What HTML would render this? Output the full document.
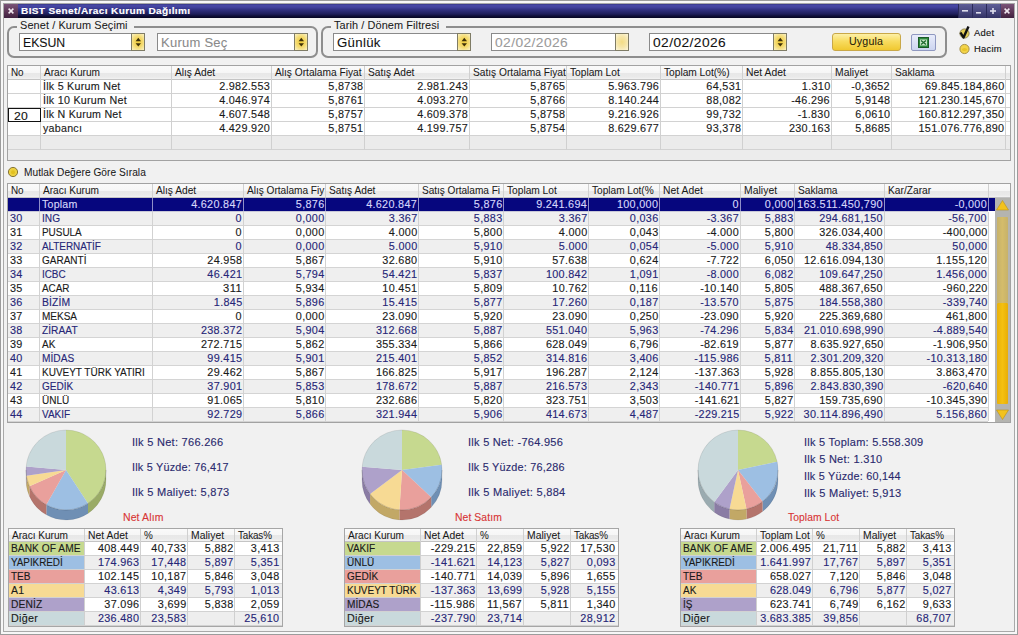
<!DOCTYPE html><html><head><meta charset="utf-8"><style>html,body{margin:0;padding:0;width:1018px;height:635px;overflow:hidden;background:#f1f1f1}body{position:relative;font-family:"Liberation Sans",sans-serif}body>div,body>svg{position:absolute}.t{white-space:nowrap;-webkit-text-stroke:0.12px currentColor}</style></head><body><div style="left:0px;top:0px;width:1018px;height:635px;background:#9c9c9c"></div>
<div style="left:1px;top:1px;width:1016px;height:633px;background:#f7f7f7"></div>
<div style="left:3px;top:3px;width:1012px;height:629px;background:#a9a9a9"></div>
<div style="left:4px;top:4px;width:1010px;height:627px;background:#f1f1f1"></div>
<div style="left:4px;top:4px;width:1010px;height:14px;background:linear-gradient(#34347c 0px,#4848a6 1px,#4444a0 3px,#30307e 6px,#1e1e5a 10px,#0e0e38 12px,#040420 14px)"></div>
<div style="left:4px;top:4px;width:14px;height:14px;background:linear-gradient(#7a5478,#5a3454 60%,#402240)"></div>
<div style="left:958px;top:4px;width:14px;height:14px;background:linear-gradient(#5e5e96,#46467c 60%,#323264);border-left:1px solid #2a2a5a;box-sizing:border-box"></div>
<div style="left:972px;top:4px;width:14px;height:14px;background:linear-gradient(#5e5e96,#46467c 60%,#323264);border-left:1px solid #2a2a5a;box-sizing:border-box"></div>
<div style="left:986px;top:4px;width:14px;height:14px;background:linear-gradient(#5e5e96,#46467c 60%,#323264);border-left:1px solid #2a2a5a;box-sizing:border-box"></div>
<div style="left:1000px;top:4px;width:14px;height:14px;background:linear-gradient(#7a5478,#5a3454 60%,#402240);border-left:1px solid #44447a;box-sizing:border-box"></div>
<svg style="left:0;top:0" width="1018" height="24"><g stroke="#f0e8f0" stroke-width="1.5" stroke-linecap="butt"><path d="M8.6 8.6 L13.4 13.4 M13.4 8.6 L8.6 13.4"/><path d="M1004.6 8.6 L1009.4 13.4 M1009.4 8.6 L1004.6 13.4"/></g><g fill="#dcdcec"><rect x="962" y="10" width="6" height="1.6"/><rect x="976" y="12" width="5" height="1.6"/><rect x="990" y="10.2" width="6" height="1.6"/><rect x="992.2" y="8" width="1.6" height="6"/></g></svg>
<div class="t" style="left:20.5px;top:1px;font-size:9.2px;line-height:20px;letter-spacing:0.322px;color:#ffffff;font-weight:bold;-webkit-text-stroke:0.15px #ffffff;transform:scaleX(1.0969);transform-origin:left 50%;">BIST Senet/Aracı Kurum Dağılımı</div>
<div style="left:7px;top:26px;width:311px;height:32px;border:2px solid #8e8e8e;border-radius:7px;box-sizing:border-box"></div>
<div style="left:17px;top:24px;width:117px;height:5px;background:#f1f1f1"></div>
<div class="t" style="left:20px;top:15px;font-size:10.6px;line-height:20px;letter-spacing:0.104px;color:#1a1a1a;-webkit-text-stroke:0.05px currentColor;transform:scaleX(1.0298);transform-origin:left 50%;">Senet / Kurum Seçimi</div>
<div style="left:321px;top:26px;width:626px;height:32px;border:2px solid #8e8e8e;border-radius:7px;box-sizing:border-box"></div>
<div style="left:331px;top:24px;width:115px;height:5px;background:#f1f1f1"></div>
<div class="t" style="left:334px;top:15px;font-size:10.6px;line-height:20px;letter-spacing:0.094px;color:#1a1a1a;-webkit-text-stroke:0.05px currentColor;transform:scaleX(1.0303);transform-origin:left 50%;">Tarih / Dönem Filtresi</div>
<div style="left:19px;top:33px;width:126px;height:18px;background:#ffffff;border:1px solid #8a8a8a;box-sizing:border-box"></div>
<div style="left:131px;top:33px;width:14px;height:18px;background:radial-gradient(ellipse 70% 60% at 50% 50%,#f0cc3a 0%,#f4da6e 55%,#f9eeb8 100%);border:1px solid #7f7c66;box-sizing:border-box"></div>
<svg style="left:131px;top:33px" width="14" height="18"><g fill="#3e3008"><path d="M4.6 8.2 L7.3 4.8 L10 8.2 Z"/><path d="M4.6 10.2 L7.3 13.6 L10 10.2 Z"/></g></svg>
<div class="t" style="left:23px;top:33px;font-size:12.4px;line-height:20px;letter-spacing:-0.043px;color:#111111;-webkit-text-stroke:0.08px currentColor;transform:scaleX(0.9925);transform-origin:left 50%;">EKSUN</div>
<div style="left:157px;top:33px;width:151px;height:18px;background:#ffffff;border:1px solid #8a8a8a;box-sizing:border-box"></div>
<div style="left:294px;top:33px;width:14px;height:18px;background:radial-gradient(ellipse 70% 60% at 50% 50%,#f0cc3a 0%,#f4da6e 55%,#f9eeb8 100%);border:1px solid #7f7c66;box-sizing:border-box"></div>
<svg style="left:294px;top:33px" width="14" height="18"><g fill="#3e3008"><path d="M4.6 8.2 L7.3 4.8 L10 8.2 Z"/><path d="M4.6 10.2 L7.3 13.6 L10 10.2 Z"/></g></svg>
<div class="t" style="left:161px;top:33px;font-size:12.4px;line-height:20px;letter-spacing:0.237px;color:#8a8a8a;-webkit-text-stroke:0.08px currentColor;transform:scaleX(1.0504);transform-origin:left 50%;">Kurum Seç</div>
<div style="left:333px;top:33px;width:138px;height:18px;background:#ffffff;border:1px solid #8a8a8a;box-sizing:border-box"></div>
<div style="left:457px;top:33px;width:14px;height:18px;background:radial-gradient(ellipse 70% 60% at 50% 50%,#f0cc3a 0%,#f4da6e 55%,#f9eeb8 100%);border:1px solid #7f7c66;box-sizing:border-box"></div>
<svg style="left:457px;top:33px" width="14" height="18"><g fill="#3e3008"><path d="M4.6 8.2 L7.3 4.8 L10 8.2 Z"/><path d="M4.6 10.2 L7.3 13.6 L10 10.2 Z"/></g></svg>
<div class="t" style="left:337px;top:33px;font-size:12.4px;line-height:20px;letter-spacing:0.301px;color:#111111;-webkit-text-stroke:0.08px currentColor;transform:scaleX(1.0660);transform-origin:left 50%;">Günlük</div>
<div style="left:491px;top:33px;width:138px;height:18px;background:#ffffff;border:1px solid #8a8a8a;box-sizing:border-box"></div>
<div style="left:615px;top:33px;width:14px;height:18px;background:radial-gradient(ellipse 70% 60% at 50% 50%,#f3dc84 0%,#f6e6a8 55%,#fbf3d2 100%);border:1px solid #7f7c66;box-sizing:border-box"></div>
<div class="t" style="left:495px;top:33px;font-size:12.7px;line-height:20px;letter-spacing:0.385px;color:#9a9a9a;-webkit-text-stroke:0.08px currentColor;transform:scaleX(1.0858);transform-origin:left 50%;">02/02/2026</div>
<div style="left:649px;top:33px;width:138px;height:18px;background:#ffffff;border:1px solid #8a8a8a;box-sizing:border-box"></div>
<div style="left:773px;top:33px;width:14px;height:18px;background:radial-gradient(ellipse 70% 60% at 50% 50%,#f0cc3a 0%,#f4da6e 55%,#f9eeb8 100%);border:1px solid #7f7c66;box-sizing:border-box"></div>
<svg style="left:773px;top:33px" width="14" height="18"><g fill="#3e3008"><path d="M4.6 8.2 L7.3 4.8 L10 8.2 Z"/><path d="M4.6 10.2 L7.3 13.6 L10 10.2 Z"/></g></svg>
<div class="t" style="left:653px;top:33px;font-size:12.7px;line-height:20px;letter-spacing:0.385px;color:#111111;-webkit-text-stroke:0.08px currentColor;transform:scaleX(1.0858);transform-origin:left 50%;">02/02/2026</div>
<div style="left:832px;top:33px;width:69px;height:18px;background:linear-gradient(#fdf0a8,#f8dc60 45%,#f0c830 100%);border:1px solid #c9a848;border-radius:3px;box-sizing:border-box"></div>
<div class="t" style="left:848.93px;top:32px;font-size:10.2px;line-height:20px;letter-spacing:0.159px;color:#1e1a08;-webkit-text-stroke:0.05px currentColor;transform:scaleX(1.0437);transform-origin:left 50%;">Uygula</div>
<div style="left:911px;top:34px;width:25px;height:17px;background:linear-gradient(#e8ecfa,#cdd5f0);border:1px solid #8f98c0;border-radius:2px;box-sizing:border-box"></div>
<svg style="left:918px;top:37px" width="11" height="11"><rect x="0.5" y="0.5" width="10" height="10" fill="#2e8a3e" stroke="#1a5a26"/><rect x="2" y="2.5" width="7" height="6" fill="#c8e8c8"/><path d="M3 3.5 L8 7.5 M8 3.5 L3 7.5" stroke="#1f6a2e" stroke-width="1.4"/></svg>
<svg style="left:956px;top:24px" width="20" height="34"><circle cx="8.5" cy="9.5" r="4.6" fill="#e2cc58" stroke="#8a8050" stroke-width="0.9"/><path d="M4.5 8.5 L7.5 13.5 L12.5 2.5" stroke="#111" stroke-width="2.4" fill="none" stroke-linejoin="round"/><circle cx="8.5" cy="25" r="4.6" fill="#f2d34a" stroke="#a08a40" stroke-width="0.9"/><ellipse cx="8.5" cy="25.5" rx="2.6" ry="1.6" fill="#e8c428"/></svg>
<div class="t" style="left:974px;top:23px;font-size:8.8px;line-height:20px;letter-spacing:0.221px;color:#111111;transform:scaleX(1.0699);transform-origin:left 50%;">Adet</div>
<div class="t" style="left:974px;top:39px;font-size:8.8px;line-height:20px;letter-spacing:0.234px;color:#111111;transform:scaleX(1.0673);transform-origin:left 50%;">Hacim</div>
<div style="left:7px;top:65px;width:1004px;height:96px;border:1px solid #a2a2a2;box-sizing:border-box;background:#ececec"></div>
<div style="left:8px;top:66px;width:1002px;height:13px;background:linear-gradient(#fafafa 0%,#f6f6f6 50%,#e8e8e8 54%,#eaeaea 84%,#f2f2f2 100%)"></div>
<div style="left:8px;top:79px;width:1002px;height:1px;background:#c4c4c4"></div>
<div style="left:8px;top:80px;width:1002px;height:56px;background:#ffffff"></div>
<div style="left:8px;top:93px;width:1002px;height:1px;background:#d2d2d2"></div>
<div style="left:8px;top:107px;width:1002px;height:1px;background:#d2d2d2"></div>
<div style="left:8px;top:121px;width:1002px;height:1px;background:#d2d2d2"></div>
<div style="left:8px;top:135px;width:1002px;height:1px;background:#d2d2d2"></div>
<div style="left:8px;top:149px;width:1002px;height:1px;background:#d2d2d2"></div>
<div style="left:8px;top:136px;width:1002px;height:13px;background:#ebebeb"></div>
<div style="left:40px;top:66px;width:1px;height:84px;background:#d0d0d0"></div>
<div style="left:171px;top:66px;width:1px;height:84px;background:#d0d0d0"></div>
<div style="left:271px;top:66px;width:1px;height:84px;background:#d0d0d0"></div>
<div style="left:364px;top:66px;width:1px;height:84px;background:#d0d0d0"></div>
<div style="left:469px;top:66px;width:1px;height:84px;background:#d0d0d0"></div>
<div style="left:566px;top:66px;width:1px;height:84px;background:#d0d0d0"></div>
<div style="left:660px;top:66px;width:1px;height:84px;background:#d0d0d0"></div>
<div style="left:742px;top:66px;width:1px;height:84px;background:#d0d0d0"></div>
<div style="left:831px;top:66px;width:1px;height:84px;background:#d0d0d0"></div>
<div style="left:891px;top:66px;width:1px;height:84px;background:#d0d0d0"></div>
<div style="left:1005px;top:66px;width:1px;height:84px;background:#d0d0d0"></div>
<div style="left:8px;top:150px;width:1002px;height:10px;background:#ececec"></div>
<div class="t" style="left:11px;top:63px;font-size:10.2px;line-height:20px;letter-spacing:-0.119px;color:#1a1a1a;-webkit-text-stroke:0.05px currentColor;transform:scaleX(0.9721);transform-origin:left 50%;">No</div>
<div class="t" style="left:44px;top:63px;font-size:10.2px;line-height:20px;letter-spacing:-0.027px;color:#1a1a1a;-webkit-text-stroke:0.05px currentColor;transform:scaleX(0.9920);transform-origin:left 50%;">Aracı Kurum</div>
<div class="t" style="left:175px;top:63px;font-size:10.2px;line-height:20px;letter-spacing:-0.005px;color:#1a1a1a;-webkit-text-stroke:0.05px currentColor;">Alış Adet</div>
<div class="t" style="left:275px;top:63px;font-size:10.2px;line-height:20px;letter-spacing:-0.005px;color:#1a1a1a;-webkit-text-stroke:0.05px currentColor;">Alış Ortalama Fiyat</div>
<div class="t" style="left:368px;top:63px;font-size:10.2px;line-height:20px;letter-spacing:-0.006px;color:#1a1a1a;-webkit-text-stroke:0.05px currentColor;">Satış Adet</div>
<div class="t" style="left:473px;top:63px;font-size:10.2px;line-height:20px;letter-spacing:-0.005px;color:#1a1a1a;-webkit-text-stroke:0.05px currentColor;">Satış Ortalama Fiyat</div>
<div class="t" style="left:570px;top:63px;font-size:10.2px;line-height:20px;letter-spacing:-0.014px;color:#1a1a1a;-webkit-text-stroke:0.05px currentColor;">Toplam Lot</div>
<div class="t" style="left:664px;top:63px;font-size:10.2px;line-height:20px;letter-spacing:-0.012px;color:#1a1a1a;-webkit-text-stroke:0.05px currentColor;">Toplam Lot(%)</div>
<div class="t" style="left:746px;top:63px;font-size:10.2px;line-height:20px;letter-spacing:0.048px;color:#1a1a1a;-webkit-text-stroke:0.05px currentColor;transform:scaleX(1.0147);transform-origin:left 50%;">Net Adet</div>
<div class="t" style="left:835px;top:63px;font-size:10.2px;line-height:20px;letter-spacing:0.052px;color:#1a1a1a;-webkit-text-stroke:0.05px currentColor;transform:scaleX(1.0167);transform-origin:left 50%;">Maliyet</div>
<div class="t" style="left:895px;top:63px;font-size:10.2px;line-height:20px;letter-spacing:-0.017px;color:#1a1a1a;-webkit-text-stroke:0.05px currentColor;">Saklama</div>
<div class="t" style="left:43px;top:77px;font-size:10.0px;line-height:20px;letter-spacing:0.231px;color:#1a1a1a;transform:scaleX(1.0717);transform-origin:left 50%;">İlk 5 Kurum Net</div>
<div class="t" style="right:747.72px;top:77px;font-size:10.0px;line-height:20px;letter-spacing:0.285px;color:#1a1a1a;transform:scaleX(1.0817);transform-origin:right 50%;">2.982.553</div>
<div class="t" style="right:654.71px;top:77px;font-size:10.0px;line-height:20px;letter-spacing:0.294px;color:#1a1a1a;transform:scaleX(1.0817);transform-origin:right 50%;">5,8738</div>
<div class="t" style="right:549.72px;top:77px;font-size:10.0px;line-height:20px;letter-spacing:0.285px;color:#1a1a1a;transform:scaleX(1.0817);transform-origin:right 50%;">2.981.243</div>
<div class="t" style="right:452.71px;top:77px;font-size:10.0px;line-height:20px;letter-spacing:0.294px;color:#1a1a1a;transform:scaleX(1.0817);transform-origin:right 50%;">5,8765</div>
<div class="t" style="right:358.72px;top:77px;font-size:10.0px;line-height:20px;letter-spacing:0.285px;color:#1a1a1a;transform:scaleX(1.0817);transform-origin:right 50%;">5.963.796</div>
<div class="t" style="right:276.71px;top:77px;font-size:10.0px;line-height:20px;letter-spacing:0.294px;color:#1a1a1a;transform:scaleX(1.0817);transform-origin:right 50%;">64,531</div>
<div class="t" style="right:187.71px;top:77px;font-size:10.0px;line-height:20px;letter-spacing:0.288px;color:#1a1a1a;transform:scaleX(1.0817);transform-origin:right 50%;">1.310</div>
<div class="t" style="right:127.73px;top:77px;font-size:10.0px;line-height:20px;letter-spacing:0.268px;color:#1a1a1a;transform:scaleX(1.0785);transform-origin:right 50%;">-0,3652</div>
<div class="t" style="right:13.71px;top:77px;font-size:10.0px;line-height:20px;letter-spacing:0.286px;color:#1a1a1a;transform:scaleX(1.0817);transform-origin:right 50%;">69.845.184,860</div>
<div class="t" style="left:43px;top:91px;font-size:10.0px;line-height:20px;letter-spacing:0.236px;color:#1a1a1a;transform:scaleX(1.0724);transform-origin:left 50%;">İlk 10 Kurum Net</div>
<div class="t" style="right:747.72px;top:91px;font-size:10.0px;line-height:20px;letter-spacing:0.285px;color:#1a1a1a;transform:scaleX(1.0817);transform-origin:right 50%;">4.046.974</div>
<div class="t" style="right:654.71px;top:91px;font-size:10.0px;line-height:20px;letter-spacing:0.294px;color:#1a1a1a;transform:scaleX(1.0817);transform-origin:right 50%;">5,8761</div>
<div class="t" style="right:549.72px;top:91px;font-size:10.0px;line-height:20px;letter-spacing:0.285px;color:#1a1a1a;transform:scaleX(1.0817);transform-origin:right 50%;">4.093.270</div>
<div class="t" style="right:452.71px;top:91px;font-size:10.0px;line-height:20px;letter-spacing:0.294px;color:#1a1a1a;transform:scaleX(1.0817);transform-origin:right 50%;">5,8766</div>
<div class="t" style="right:358.72px;top:91px;font-size:10.0px;line-height:20px;letter-spacing:0.285px;color:#1a1a1a;transform:scaleX(1.0817);transform-origin:right 50%;">8.140.244</div>
<div class="t" style="right:276.71px;top:91px;font-size:10.0px;line-height:20px;letter-spacing:0.294px;color:#1a1a1a;transform:scaleX(1.0817);transform-origin:right 50%;">88,082</div>
<div class="t" style="right:187.73px;top:91px;font-size:10.0px;line-height:20px;letter-spacing:0.268px;color:#1a1a1a;transform:scaleX(1.0785);transform-origin:right 50%;">-46.296</div>
<div class="t" style="right:127.71px;top:91px;font-size:10.0px;line-height:20px;letter-spacing:0.294px;color:#1a1a1a;transform:scaleX(1.0817);transform-origin:right 50%;">5,9148</div>
<div class="t" style="right:13.71px;top:91px;font-size:10.0px;line-height:20px;letter-spacing:0.288px;color:#1a1a1a;transform:scaleX(1.0817);transform-origin:right 50%;">121.230.145,670</div>
<div class="t" style="left:43px;top:105px;font-size:10.0px;line-height:20px;letter-spacing:0.216px;color:#1a1a1a;transform:scaleX(1.0659);transform-origin:left 50%;">İlk N Kurum Net</div>
<div class="t" style="right:747.72px;top:105px;font-size:10.0px;line-height:20px;letter-spacing:0.285px;color:#1a1a1a;transform:scaleX(1.0817);transform-origin:right 50%;">4.607.548</div>
<div class="t" style="right:654.71px;top:105px;font-size:10.0px;line-height:20px;letter-spacing:0.294px;color:#1a1a1a;transform:scaleX(1.0817);transform-origin:right 50%;">5,8757</div>
<div class="t" style="right:549.72px;top:105px;font-size:10.0px;line-height:20px;letter-spacing:0.285px;color:#1a1a1a;transform:scaleX(1.0817);transform-origin:right 50%;">4.609.378</div>
<div class="t" style="right:452.71px;top:105px;font-size:10.0px;line-height:20px;letter-spacing:0.294px;color:#1a1a1a;transform:scaleX(1.0817);transform-origin:right 50%;">5,8758</div>
<div class="t" style="right:358.72px;top:105px;font-size:10.0px;line-height:20px;letter-spacing:0.285px;color:#1a1a1a;transform:scaleX(1.0817);transform-origin:right 50%;">9.216.926</div>
<div class="t" style="right:276.71px;top:105px;font-size:10.0px;line-height:20px;letter-spacing:0.294px;color:#1a1a1a;transform:scaleX(1.0817);transform-origin:right 50%;">99,732</div>
<div class="t" style="right:187.74px;top:105px;font-size:10.0px;line-height:20px;letter-spacing:0.259px;color:#1a1a1a;transform:scaleX(1.0779);transform-origin:right 50%;">-1.830</div>
<div class="t" style="right:127.71px;top:105px;font-size:10.0px;line-height:20px;letter-spacing:0.294px;color:#1a1a1a;transform:scaleX(1.0817);transform-origin:right 50%;">6,0610</div>
<div class="t" style="right:13.71px;top:105px;font-size:10.0px;line-height:20px;letter-spacing:0.288px;color:#1a1a1a;transform:scaleX(1.0817);transform-origin:right 50%;">160.812.297,350</div>
<div class="t" style="left:43px;top:119px;font-size:10.0px;line-height:20px;letter-spacing:0.235px;color:#1a1a1a;transform:scaleX(1.0673);transform-origin:left 50%;">yabancı</div>
<div class="t" style="right:747.72px;top:119px;font-size:10.0px;line-height:20px;letter-spacing:0.285px;color:#1a1a1a;transform:scaleX(1.0817);transform-origin:right 50%;">4.429.920</div>
<div class="t" style="right:654.71px;top:119px;font-size:10.0px;line-height:20px;letter-spacing:0.294px;color:#1a1a1a;transform:scaleX(1.0817);transform-origin:right 50%;">5,8751</div>
<div class="t" style="right:549.72px;top:119px;font-size:10.0px;line-height:20px;letter-spacing:0.285px;color:#1a1a1a;transform:scaleX(1.0817);transform-origin:right 50%;">4.199.757</div>
<div class="t" style="right:452.71px;top:119px;font-size:10.0px;line-height:20px;letter-spacing:0.294px;color:#1a1a1a;transform:scaleX(1.0817);transform-origin:right 50%;">5,8754</div>
<div class="t" style="right:358.72px;top:119px;font-size:10.0px;line-height:20px;letter-spacing:0.285px;color:#1a1a1a;transform:scaleX(1.0817);transform-origin:right 50%;">8.629.677</div>
<div class="t" style="right:276.71px;top:119px;font-size:10.0px;line-height:20px;letter-spacing:0.294px;color:#1a1a1a;transform:scaleX(1.0817);transform-origin:right 50%;">93,378</div>
<div class="t" style="right:187.70px;top:119px;font-size:10.0px;line-height:20px;letter-spacing:0.297px;color:#1a1a1a;transform:scaleX(1.0817);transform-origin:right 50%;">230.163</div>
<div class="t" style="right:127.71px;top:119px;font-size:10.0px;line-height:20px;letter-spacing:0.294px;color:#1a1a1a;transform:scaleX(1.0817);transform-origin:right 50%;">5,8685</div>
<div class="t" style="right:13.71px;top:119px;font-size:10.0px;line-height:20px;letter-spacing:0.288px;color:#1a1a1a;transform:scaleX(1.0817);transform-origin:right 50%;">151.076.776,890</div>
<div style="left:8px;top:108px;width:33px;height:14px;background:#ffffff;border:1px solid #111111;box-sizing:border-box"></div>
<div class="t" style="left:14px;top:106px;font-size:11.6px;line-height:20px;letter-spacing:0.219px;color:#111111;transform:scaleX(1.0492);transform-origin:left 50%;">20</div>
<svg style="left:6px;top:165px" width="14" height="14"><circle cx="7" cy="7" r="4.6" fill="#ecd040" stroke="#857538" stroke-width="1"/><circle cx="7" cy="7.3" r="2" fill="#e2c020"/></svg>
<div class="t" style="left:23.5px;top:163px;font-size:10px;line-height:20px;letter-spacing:0.046px;color:#1a1a1a;-webkit-text-stroke:0.05px currentColor;transform:scaleX(1.0144);transform-origin:left 50%;">Mutlak Değere Göre Sırala</div>
<div style="left:7px;top:183px;width:1004px;height:240px;border:1px solid #a2a2a2;box-sizing:border-box;background:#ffffff"></div>
<div style="left:8px;top:184px;width:1002px;height:13px;background:linear-gradient(#fafafa 0%,#f6f6f6 50%,#e8e8e8 54%,#eaeaea 84%,#f2f2f2 100%)"></div>
<div style="left:8px;top:197px;width:1002px;height:1px;background:#c4c4c4"></div>
<div style="left:8px;top:198px;width:987px;height:13px;background:#06067e"></div>
<div style="left:8px;top:211px;width:980px;height:1px;background:#c8c8d8"></div>
<div style="left:8px;top:212px;width:980px;height:13px;background:#efefef"></div>
<div style="left:8px;top:225px;width:980px;height:1px;background:#d4d4d4"></div>
<div style="left:8px;top:226px;width:980px;height:13px;background:#ffffff"></div>
<div style="left:8px;top:239px;width:980px;height:1px;background:#d4d4d4"></div>
<div style="left:8px;top:240px;width:980px;height:13px;background:#efefef"></div>
<div style="left:8px;top:253px;width:980px;height:1px;background:#d4d4d4"></div>
<div style="left:8px;top:254px;width:980px;height:13px;background:#ffffff"></div>
<div style="left:8px;top:267px;width:980px;height:1px;background:#d4d4d4"></div>
<div style="left:8px;top:268px;width:980px;height:13px;background:#efefef"></div>
<div style="left:8px;top:281px;width:980px;height:1px;background:#d4d4d4"></div>
<div style="left:8px;top:282px;width:980px;height:13px;background:#ffffff"></div>
<div style="left:8px;top:295px;width:980px;height:1px;background:#d4d4d4"></div>
<div style="left:8px;top:296px;width:980px;height:13px;background:#efefef"></div>
<div style="left:8px;top:309px;width:980px;height:1px;background:#d4d4d4"></div>
<div style="left:8px;top:310px;width:980px;height:13px;background:#ffffff"></div>
<div style="left:8px;top:323px;width:980px;height:1px;background:#d4d4d4"></div>
<div style="left:8px;top:324px;width:980px;height:13px;background:#efefef"></div>
<div style="left:8px;top:337px;width:980px;height:1px;background:#d4d4d4"></div>
<div style="left:8px;top:338px;width:980px;height:13px;background:#ffffff"></div>
<div style="left:8px;top:351px;width:980px;height:1px;background:#d4d4d4"></div>
<div style="left:8px;top:352px;width:980px;height:13px;background:#efefef"></div>
<div style="left:8px;top:365px;width:980px;height:1px;background:#d4d4d4"></div>
<div style="left:8px;top:366px;width:980px;height:13px;background:#ffffff"></div>
<div style="left:8px;top:379px;width:980px;height:1px;background:#d4d4d4"></div>
<div style="left:8px;top:380px;width:980px;height:13px;background:#efefef"></div>
<div style="left:8px;top:393px;width:980px;height:1px;background:#d4d4d4"></div>
<div style="left:8px;top:394px;width:980px;height:13px;background:#ffffff"></div>
<div style="left:8px;top:407px;width:980px;height:1px;background:#d4d4d4"></div>
<div style="left:8px;top:408px;width:980px;height:13px;background:#efefef"></div>
<div style="left:8px;top:421px;width:980px;height:1px;background:#d4d4d4"></div>
<div style="left:39px;top:184px;width:1px;height:13px;background:#d0d0d0"></div>
<div style="left:39px;top:198px;width:1px;height:13px;background:#8f8fc8"></div>
<div style="left:39px;top:212px;width:1px;height:209px;background:#d2d2d2"></div>
<div style="left:152px;top:184px;width:1px;height:13px;background:#d0d0d0"></div>
<div style="left:152px;top:198px;width:1px;height:13px;background:#8f8fc8"></div>
<div style="left:152px;top:212px;width:1px;height:209px;background:#d2d2d2"></div>
<div style="left:243px;top:184px;width:1px;height:13px;background:#d0d0d0"></div>
<div style="left:243px;top:198px;width:1px;height:13px;background:#8f8fc8"></div>
<div style="left:243px;top:212px;width:1px;height:209px;background:#d2d2d2"></div>
<div style="left:325px;top:184px;width:1px;height:13px;background:#d0d0d0"></div>
<div style="left:325px;top:198px;width:1px;height:13px;background:#8f8fc8"></div>
<div style="left:325px;top:212px;width:1px;height:209px;background:#d2d2d2"></div>
<div style="left:418px;top:184px;width:1px;height:13px;background:#d0d0d0"></div>
<div style="left:418px;top:198px;width:1px;height:13px;background:#8f8fc8"></div>
<div style="left:418px;top:212px;width:1px;height:209px;background:#d2d2d2"></div>
<div style="left:503px;top:184px;width:1px;height:13px;background:#d0d0d0"></div>
<div style="left:503px;top:198px;width:1px;height:13px;background:#8f8fc8"></div>
<div style="left:503px;top:212px;width:1px;height:209px;background:#d2d2d2"></div>
<div style="left:588px;top:184px;width:1px;height:13px;background:#d0d0d0"></div>
<div style="left:588px;top:198px;width:1px;height:13px;background:#8f8fc8"></div>
<div style="left:588px;top:212px;width:1px;height:209px;background:#d2d2d2"></div>
<div style="left:659px;top:184px;width:1px;height:13px;background:#d0d0d0"></div>
<div style="left:659px;top:198px;width:1px;height:13px;background:#8f8fc8"></div>
<div style="left:659px;top:212px;width:1px;height:209px;background:#d2d2d2"></div>
<div style="left:740px;top:184px;width:1px;height:13px;background:#d0d0d0"></div>
<div style="left:740px;top:198px;width:1px;height:13px;background:#8f8fc8"></div>
<div style="left:740px;top:212px;width:1px;height:209px;background:#d2d2d2"></div>
<div style="left:794px;top:184px;width:1px;height:13px;background:#d0d0d0"></div>
<div style="left:794px;top:198px;width:1px;height:13px;background:#8f8fc8"></div>
<div style="left:794px;top:212px;width:1px;height:209px;background:#d2d2d2"></div>
<div style="left:884px;top:184px;width:1px;height:13px;background:#d0d0d0"></div>
<div style="left:884px;top:198px;width:1px;height:13px;background:#8f8fc8"></div>
<div style="left:884px;top:212px;width:1px;height:209px;background:#d2d2d2"></div>
<div style="left:988px;top:184px;width:1px;height:13px;background:#d0d0d0"></div>
<div style="left:988px;top:198px;width:1px;height:13px;background:#8f8fc8"></div>
<div style="left:988px;top:212px;width:1px;height:209px;background:#d2d2d2"></div>
<div class="t" style="left:11px;top:181px;font-size:10.2px;line-height:20px;letter-spacing:-0.119px;color:#1a1a1a;-webkit-text-stroke:0.05px currentColor;transform:scaleX(0.9721);transform-origin:left 50%;">No</div>
<div class="t" style="left:43px;top:181px;font-size:10.2px;line-height:20px;letter-spacing:-0.027px;color:#1a1a1a;-webkit-text-stroke:0.05px currentColor;transform:scaleX(0.9920);transform-origin:left 50%;">Aracı Kurum</div>
<div class="t" style="left:156px;top:181px;font-size:10.2px;line-height:20px;letter-spacing:-0.005px;color:#1a1a1a;-webkit-text-stroke:0.05px currentColor;">Alış Adet</div>
<div class="t" style="left:247px;top:181px;font-size:10.2px;line-height:20px;letter-spacing:-0.021px;color:#1a1a1a;-webkit-text-stroke:0.05px currentColor;transform:scaleX(0.9930);transform-origin:left 50%;">Alış Ortalama Fiy</div>
<div class="t" style="left:329px;top:181px;font-size:10.2px;line-height:20px;letter-spacing:-0.006px;color:#1a1a1a;-webkit-text-stroke:0.05px currentColor;">Satış Adet</div>
<div class="t" style="left:422px;top:181px;font-size:10.2px;line-height:20px;letter-spacing:-0.030px;color:#1a1a1a;-webkit-text-stroke:0.05px currentColor;transform:scaleX(0.9904);transform-origin:left 50%;">Satış Ortalama Fi</div>
<div class="t" style="left:507px;top:181px;font-size:10.2px;line-height:20px;letter-spacing:-0.014px;color:#1a1a1a;-webkit-text-stroke:0.05px currentColor;">Toplam Lot</div>
<div class="t" style="left:592px;top:181px;font-size:10.2px;line-height:20px;letter-spacing:-0.019px;color:#1a1a1a;-webkit-text-stroke:0.05px currentColor;transform:scaleX(0.9946);transform-origin:left 50%;">Toplam Lot(%</div>
<div class="t" style="left:663px;top:181px;font-size:10.2px;line-height:20px;letter-spacing:0.048px;color:#1a1a1a;-webkit-text-stroke:0.05px currentColor;transform:scaleX(1.0147);transform-origin:left 50%;">Net Adet</div>
<div class="t" style="left:744px;top:181px;font-size:10.2px;line-height:20px;letter-spacing:0.052px;color:#1a1a1a;-webkit-text-stroke:0.05px currentColor;transform:scaleX(1.0167);transform-origin:left 50%;">Maliyet</div>
<div class="t" style="left:798px;top:181px;font-size:10.2px;line-height:20px;letter-spacing:-0.017px;color:#1a1a1a;-webkit-text-stroke:0.05px currentColor;">Saklama</div>
<div class="t" style="left:888px;top:181px;font-size:10.2px;line-height:20px;letter-spacing:0.010px;color:#1a1a1a;-webkit-text-stroke:0.05px currentColor;">Kar/Zarar</div>
<div class="t" style="left:42px;top:195px;font-size:10.0px;line-height:20px;letter-spacing:0.219px;color:#d6d6fa;transform:scaleX(1.0588);transform-origin:left 50%;">Toplam</div>
<div class="t" style="right:775.72px;top:195px;font-size:10.0px;line-height:20px;letter-spacing:0.285px;color:#d6d6fa;transform:scaleX(1.0817);transform-origin:right 50%;">4.620.847</div>
<div class="t" style="right:693.71px;top:195px;font-size:10.0px;line-height:20px;letter-spacing:0.288px;color:#d6d6fa;transform:scaleX(1.0817);transform-origin:right 50%;">5,876</div>
<div class="t" style="right:600.72px;top:195px;font-size:10.0px;line-height:20px;letter-spacing:0.285px;color:#d6d6fa;transform:scaleX(1.0817);transform-origin:right 50%;">4.620.847</div>
<div class="t" style="right:515.71px;top:195px;font-size:10.0px;line-height:20px;letter-spacing:0.288px;color:#d6d6fa;transform:scaleX(1.0817);transform-origin:right 50%;">5,876</div>
<div class="t" style="right:430.72px;top:195px;font-size:10.0px;line-height:20px;letter-spacing:0.285px;color:#d6d6fa;transform:scaleX(1.0817);transform-origin:right 50%;">9.241.694</div>
<div class="t" style="right:359.70px;top:195px;font-size:10.0px;line-height:20px;letter-spacing:0.297px;color:#d6d6fa;transform:scaleX(1.0817);transform-origin:right 50%;">100,000</div>
<div class="t" style="right:278.68px;top:195px;font-size:10.0px;line-height:20px;letter-spacing:0.320px;color:#d6d6fa;transform:scaleX(1.0817);transform-origin:right 50%;">0</div>
<div class="t" style="right:224.71px;top:195px;font-size:10.0px;line-height:20px;letter-spacing:0.288px;color:#d6d6fa;transform:scaleX(1.0817);transform-origin:right 50%;">0,000</div>
<div class="t" style="right:134.69px;top:195px;font-size:10.0px;line-height:20px;letter-spacing:0.308px;color:#d6d6fa;transform:scaleX(1.0878);transform-origin:right 50%;">163.511.450,790</div>
<div class="t" style="right:30.74px;top:195px;font-size:10.0px;line-height:20px;letter-spacing:0.259px;color:#d6d6fa;transform:scaleX(1.0779);transform-origin:right 50%;">-0,000</div>
<div class="t" style="left:10px;top:209px;font-size:10.0px;line-height:20px;letter-spacing:0.320px;color:#262677;transform:scaleX(1.0817);transform-origin:left 50%;">30</div>
<div class="t" style="left:42px;top:209px;font-size:10.0px;line-height:20px;letter-spacing:0.053px;color:#262677;transform:scaleX(1.0134);transform-origin:left 50%;">ING</div>
<div class="t" style="right:775.68px;top:209px;font-size:10.0px;line-height:20px;letter-spacing:0.320px;color:#262677;transform:scaleX(1.0817);transform-origin:right 50%;">0</div>
<div class="t" style="right:693.71px;top:209px;font-size:10.0px;line-height:20px;letter-spacing:0.288px;color:#262677;transform:scaleX(1.0817);transform-origin:right 50%;">0,000</div>
<div class="t" style="right:600.71px;top:209px;font-size:10.0px;line-height:20px;letter-spacing:0.288px;color:#262677;transform:scaleX(1.0817);transform-origin:right 50%;">3.367</div>
<div class="t" style="right:515.71px;top:209px;font-size:10.0px;line-height:20px;letter-spacing:0.288px;color:#262677;transform:scaleX(1.0817);transform-origin:right 50%;">5,883</div>
<div class="t" style="right:430.71px;top:209px;font-size:10.0px;line-height:20px;letter-spacing:0.288px;color:#262677;transform:scaleX(1.0817);transform-origin:right 50%;">3.367</div>
<div class="t" style="right:359.71px;top:209px;font-size:10.0px;line-height:20px;letter-spacing:0.288px;color:#262677;transform:scaleX(1.0817);transform-origin:right 50%;">0,036</div>
<div class="t" style="right:278.74px;top:209px;font-size:10.0px;line-height:20px;letter-spacing:0.259px;color:#262677;transform:scaleX(1.0779);transform-origin:right 50%;">-3.367</div>
<div class="t" style="right:224.71px;top:209px;font-size:10.0px;line-height:20px;letter-spacing:0.288px;color:#262677;transform:scaleX(1.0817);transform-origin:right 50%;">5,883</div>
<div class="t" style="right:134.71px;top:209px;font-size:10.0px;line-height:20px;letter-spacing:0.291px;color:#262677;transform:scaleX(1.0817);transform-origin:right 50%;">294.681,150</div>
<div class="t" style="right:30.73px;top:209px;font-size:10.0px;line-height:20px;letter-spacing:0.268px;color:#262677;transform:scaleX(1.0785);transform-origin:right 50%;">-56,700</div>
<div class="t" style="left:10px;top:223px;font-size:10.0px;line-height:20px;letter-spacing:0.320px;color:#1a1a1a;transform:scaleX(1.0817);transform-origin:left 50%;">31</div>
<div class="t" style="left:42px;top:223px;font-size:10.0px;line-height:20px;letter-spacing:-0.024px;color:#1a1a1a;transform:scaleX(0.9946);transform-origin:left 50%;">PUSULA</div>
<div class="t" style="right:775.68px;top:223px;font-size:10.0px;line-height:20px;letter-spacing:0.320px;color:#1a1a1a;transform:scaleX(1.0817);transform-origin:right 50%;">0</div>
<div class="t" style="right:693.71px;top:223px;font-size:10.0px;line-height:20px;letter-spacing:0.288px;color:#1a1a1a;transform:scaleX(1.0817);transform-origin:right 50%;">0,000</div>
<div class="t" style="right:600.71px;top:223px;font-size:10.0px;line-height:20px;letter-spacing:0.288px;color:#1a1a1a;transform:scaleX(1.0817);transform-origin:right 50%;">4.000</div>
<div class="t" style="right:515.71px;top:223px;font-size:10.0px;line-height:20px;letter-spacing:0.288px;color:#1a1a1a;transform:scaleX(1.0817);transform-origin:right 50%;">5,800</div>
<div class="t" style="right:430.71px;top:223px;font-size:10.0px;line-height:20px;letter-spacing:0.288px;color:#1a1a1a;transform:scaleX(1.0817);transform-origin:right 50%;">4.000</div>
<div class="t" style="right:359.71px;top:223px;font-size:10.0px;line-height:20px;letter-spacing:0.288px;color:#1a1a1a;transform:scaleX(1.0817);transform-origin:right 50%;">0,043</div>
<div class="t" style="right:278.74px;top:223px;font-size:10.0px;line-height:20px;letter-spacing:0.259px;color:#1a1a1a;transform:scaleX(1.0779);transform-origin:right 50%;">-4.000</div>
<div class="t" style="right:224.71px;top:223px;font-size:10.0px;line-height:20px;letter-spacing:0.288px;color:#1a1a1a;transform:scaleX(1.0817);transform-origin:right 50%;">5,800</div>
<div class="t" style="right:134.71px;top:223px;font-size:10.0px;line-height:20px;letter-spacing:0.291px;color:#1a1a1a;transform:scaleX(1.0817);transform-origin:right 50%;">326.034,400</div>
<div class="t" style="right:30.73px;top:223px;font-size:10.0px;line-height:20px;letter-spacing:0.274px;color:#1a1a1a;transform:scaleX(1.0790);transform-origin:right 50%;">-400,000</div>
<div class="t" style="left:10px;top:237px;font-size:10.0px;line-height:20px;letter-spacing:0.320px;color:#262677;transform:scaleX(1.0817);transform-origin:left 50%;">32</div>
<div class="t" style="left:42px;top:237px;font-size:10.0px;line-height:20px;letter-spacing:-0.035px;color:#262677;transform:scaleX(0.9912);transform-origin:left 50%;">ALTERNATİF</div>
<div class="t" style="right:775.68px;top:237px;font-size:10.0px;line-height:20px;letter-spacing:0.320px;color:#262677;transform:scaleX(1.0817);transform-origin:right 50%;">0</div>
<div class="t" style="right:693.71px;top:237px;font-size:10.0px;line-height:20px;letter-spacing:0.288px;color:#262677;transform:scaleX(1.0817);transform-origin:right 50%;">0,000</div>
<div class="t" style="right:600.71px;top:237px;font-size:10.0px;line-height:20px;letter-spacing:0.288px;color:#262677;transform:scaleX(1.0817);transform-origin:right 50%;">5.000</div>
<div class="t" style="right:515.71px;top:237px;font-size:10.0px;line-height:20px;letter-spacing:0.288px;color:#262677;transform:scaleX(1.0817);transform-origin:right 50%;">5,910</div>
<div class="t" style="right:430.71px;top:237px;font-size:10.0px;line-height:20px;letter-spacing:0.288px;color:#262677;transform:scaleX(1.0817);transform-origin:right 50%;">5.000</div>
<div class="t" style="right:359.71px;top:237px;font-size:10.0px;line-height:20px;letter-spacing:0.288px;color:#262677;transform:scaleX(1.0817);transform-origin:right 50%;">0,054</div>
<div class="t" style="right:278.74px;top:237px;font-size:10.0px;line-height:20px;letter-spacing:0.259px;color:#262677;transform:scaleX(1.0779);transform-origin:right 50%;">-5.000</div>
<div class="t" style="right:224.71px;top:237px;font-size:10.0px;line-height:20px;letter-spacing:0.288px;color:#262677;transform:scaleX(1.0817);transform-origin:right 50%;">5,910</div>
<div class="t" style="right:134.71px;top:237px;font-size:10.0px;line-height:20px;letter-spacing:0.288px;color:#262677;transform:scaleX(1.0817);transform-origin:right 50%;">48.334,850</div>
<div class="t" style="right:30.71px;top:237px;font-size:10.0px;line-height:20px;letter-spacing:0.294px;color:#262677;transform:scaleX(1.0817);transform-origin:right 50%;">50,000</div>
<div class="t" style="left:10px;top:251px;font-size:10.0px;line-height:20px;letter-spacing:0.320px;color:#1a1a1a;transform:scaleX(1.0817);transform-origin:left 50%;">33</div>
<div class="t" style="left:42px;top:251px;font-size:10.0px;line-height:20px;letter-spacing:0.004px;color:#1a1a1a;">GARANTİ</div>
<div class="t" style="right:775.71px;top:251px;font-size:10.0px;line-height:20px;letter-spacing:0.294px;color:#1a1a1a;transform:scaleX(1.0817);transform-origin:right 50%;">24.958</div>
<div class="t" style="right:693.71px;top:251px;font-size:10.0px;line-height:20px;letter-spacing:0.288px;color:#1a1a1a;transform:scaleX(1.0817);transform-origin:right 50%;">5,867</div>
<div class="t" style="right:600.71px;top:251px;font-size:10.0px;line-height:20px;letter-spacing:0.294px;color:#1a1a1a;transform:scaleX(1.0817);transform-origin:right 50%;">32.680</div>
<div class="t" style="right:515.71px;top:251px;font-size:10.0px;line-height:20px;letter-spacing:0.288px;color:#1a1a1a;transform:scaleX(1.0817);transform-origin:right 50%;">5,910</div>
<div class="t" style="right:430.71px;top:251px;font-size:10.0px;line-height:20px;letter-spacing:0.294px;color:#1a1a1a;transform:scaleX(1.0817);transform-origin:right 50%;">57.638</div>
<div class="t" style="right:359.71px;top:251px;font-size:10.0px;line-height:20px;letter-spacing:0.288px;color:#1a1a1a;transform:scaleX(1.0817);transform-origin:right 50%;">0,624</div>
<div class="t" style="right:278.74px;top:251px;font-size:10.0px;line-height:20px;letter-spacing:0.259px;color:#1a1a1a;transform:scaleX(1.0779);transform-origin:right 50%;">-7.722</div>
<div class="t" style="right:224.71px;top:251px;font-size:10.0px;line-height:20px;letter-spacing:0.288px;color:#1a1a1a;transform:scaleX(1.0817);transform-origin:right 50%;">6,050</div>
<div class="t" style="right:134.71px;top:251px;font-size:10.0px;line-height:20px;letter-spacing:0.286px;color:#1a1a1a;transform:scaleX(1.0817);transform-origin:right 50%;">12.616.094,130</div>
<div class="t" style="right:30.72px;top:251px;font-size:10.0px;line-height:20px;letter-spacing:0.285px;color:#1a1a1a;transform:scaleX(1.0817);transform-origin:right 50%;">1.155,120</div>
<div class="t" style="left:10px;top:265px;font-size:10.0px;line-height:20px;letter-spacing:0.320px;color:#262677;transform:scaleX(1.0817);transform-origin:left 50%;">34</div>
<div class="t" style="left:42px;top:265px;font-size:10.0px;line-height:20px;letter-spacing:-0.029px;color:#262677;transform:scaleX(0.9926);transform-origin:left 50%;">ICBC</div>
<div class="t" style="right:775.71px;top:265px;font-size:10.0px;line-height:20px;letter-spacing:0.294px;color:#262677;transform:scaleX(1.0817);transform-origin:right 50%;">46.421</div>
<div class="t" style="right:693.71px;top:265px;font-size:10.0px;line-height:20px;letter-spacing:0.288px;color:#262677;transform:scaleX(1.0817);transform-origin:right 50%;">5,794</div>
<div class="t" style="right:600.71px;top:265px;font-size:10.0px;line-height:20px;letter-spacing:0.294px;color:#262677;transform:scaleX(1.0817);transform-origin:right 50%;">54.421</div>
<div class="t" style="right:515.71px;top:265px;font-size:10.0px;line-height:20px;letter-spacing:0.288px;color:#262677;transform:scaleX(1.0817);transform-origin:right 50%;">5,837</div>
<div class="t" style="right:430.70px;top:265px;font-size:10.0px;line-height:20px;letter-spacing:0.297px;color:#262677;transform:scaleX(1.0817);transform-origin:right 50%;">100.842</div>
<div class="t" style="right:359.71px;top:265px;font-size:10.0px;line-height:20px;letter-spacing:0.288px;color:#262677;transform:scaleX(1.0817);transform-origin:right 50%;">1,091</div>
<div class="t" style="right:278.74px;top:265px;font-size:10.0px;line-height:20px;letter-spacing:0.259px;color:#262677;transform:scaleX(1.0779);transform-origin:right 50%;">-8.000</div>
<div class="t" style="right:224.71px;top:265px;font-size:10.0px;line-height:20px;letter-spacing:0.288px;color:#262677;transform:scaleX(1.0817);transform-origin:right 50%;">6,082</div>
<div class="t" style="right:134.71px;top:265px;font-size:10.0px;line-height:20px;letter-spacing:0.291px;color:#262677;transform:scaleX(1.0817);transform-origin:right 50%;">109.647,250</div>
<div class="t" style="right:30.72px;top:265px;font-size:10.0px;line-height:20px;letter-spacing:0.285px;color:#262677;transform:scaleX(1.0817);transform-origin:right 50%;">1.456,000</div>
<div class="t" style="left:10px;top:279px;font-size:10.0px;line-height:20px;letter-spacing:0.320px;color:#1a1a1a;transform:scaleX(1.0817);transform-origin:left 50%;">35</div>
<div class="t" style="left:42px;top:279px;font-size:10.0px;line-height:20px;letter-spacing:-0.035px;color:#1a1a1a;transform:scaleX(0.9925);transform-origin:left 50%;">ACAR</div>
<div class="t" style="right:775.58px;top:279px;font-size:10.0px;line-height:20px;letter-spacing:0.419px;color:#1a1a1a;transform:scaleX(1.1097);transform-origin:right 50%;">311</div>
<div class="t" style="right:693.71px;top:279px;font-size:10.0px;line-height:20px;letter-spacing:0.288px;color:#1a1a1a;transform:scaleX(1.0817);transform-origin:right 50%;">5,934</div>
<div class="t" style="right:600.71px;top:279px;font-size:10.0px;line-height:20px;letter-spacing:0.294px;color:#1a1a1a;transform:scaleX(1.0817);transform-origin:right 50%;">10.451</div>
<div class="t" style="right:515.71px;top:279px;font-size:10.0px;line-height:20px;letter-spacing:0.288px;color:#1a1a1a;transform:scaleX(1.0817);transform-origin:right 50%;">5,809</div>
<div class="t" style="right:430.71px;top:279px;font-size:10.0px;line-height:20px;letter-spacing:0.294px;color:#1a1a1a;transform:scaleX(1.0817);transform-origin:right 50%;">10.762</div>
<div class="t" style="right:359.65px;top:279px;font-size:10.0px;line-height:20px;letter-spacing:0.348px;color:#1a1a1a;transform:scaleX(1.1002);transform-origin:right 50%;">0,116</div>
<div class="t" style="right:278.73px;top:279px;font-size:10.0px;line-height:20px;letter-spacing:0.268px;color:#1a1a1a;transform:scaleX(1.0785);transform-origin:right 50%;">-10.140</div>
<div class="t" style="right:224.71px;top:279px;font-size:10.0px;line-height:20px;letter-spacing:0.288px;color:#1a1a1a;transform:scaleX(1.0817);transform-origin:right 50%;">5,805</div>
<div class="t" style="right:134.71px;top:279px;font-size:10.0px;line-height:20px;letter-spacing:0.291px;color:#1a1a1a;transform:scaleX(1.0817);transform-origin:right 50%;">488.367,650</div>
<div class="t" style="right:30.73px;top:279px;font-size:10.0px;line-height:20px;letter-spacing:0.274px;color:#1a1a1a;transform:scaleX(1.0790);transform-origin:right 50%;">-960,220</div>
<div class="t" style="left:10px;top:293px;font-size:10.0px;line-height:20px;letter-spacing:0.320px;color:#262677;transform:scaleX(1.0817);transform-origin:left 50%;">36</div>
<div class="t" style="left:42px;top:293px;font-size:10.0px;line-height:20px;letter-spacing:0.126px;color:#262677;transform:scaleX(1.0346);transform-origin:left 50%;">BİZİM</div>
<div class="t" style="right:775.71px;top:293px;font-size:10.0px;line-height:20px;letter-spacing:0.288px;color:#262677;transform:scaleX(1.0817);transform-origin:right 50%;">1.845</div>
<div class="t" style="right:693.71px;top:293px;font-size:10.0px;line-height:20px;letter-spacing:0.288px;color:#262677;transform:scaleX(1.0817);transform-origin:right 50%;">5,896</div>
<div class="t" style="right:600.71px;top:293px;font-size:10.0px;line-height:20px;letter-spacing:0.294px;color:#262677;transform:scaleX(1.0817);transform-origin:right 50%;">15.415</div>
<div class="t" style="right:515.71px;top:293px;font-size:10.0px;line-height:20px;letter-spacing:0.288px;color:#262677;transform:scaleX(1.0817);transform-origin:right 50%;">5,877</div>
<div class="t" style="right:430.71px;top:293px;font-size:10.0px;line-height:20px;letter-spacing:0.294px;color:#262677;transform:scaleX(1.0817);transform-origin:right 50%;">17.260</div>
<div class="t" style="right:359.71px;top:293px;font-size:10.0px;line-height:20px;letter-spacing:0.288px;color:#262677;transform:scaleX(1.0817);transform-origin:right 50%;">0,187</div>
<div class="t" style="right:278.73px;top:293px;font-size:10.0px;line-height:20px;letter-spacing:0.268px;color:#262677;transform:scaleX(1.0785);transform-origin:right 50%;">-13.570</div>
<div class="t" style="right:224.71px;top:293px;font-size:10.0px;line-height:20px;letter-spacing:0.288px;color:#262677;transform:scaleX(1.0817);transform-origin:right 50%;">5,875</div>
<div class="t" style="right:134.71px;top:293px;font-size:10.0px;line-height:20px;letter-spacing:0.291px;color:#262677;transform:scaleX(1.0817);transform-origin:right 50%;">184.558,380</div>
<div class="t" style="right:30.73px;top:293px;font-size:10.0px;line-height:20px;letter-spacing:0.274px;color:#262677;transform:scaleX(1.0790);transform-origin:right 50%;">-339,740</div>
<div class="t" style="left:10px;top:307px;font-size:10.0px;line-height:20px;letter-spacing:0.320px;color:#1a1a1a;transform:scaleX(1.0817);transform-origin:left 50%;">37</div>
<div class="t" style="left:42px;top:307px;font-size:10.0px;line-height:20px;letter-spacing:-0.011px;color:#1a1a1a;">MEKSA</div>
<div class="t" style="right:775.68px;top:307px;font-size:10.0px;line-height:20px;letter-spacing:0.320px;color:#1a1a1a;transform:scaleX(1.0817);transform-origin:right 50%;">0</div>
<div class="t" style="right:693.71px;top:307px;font-size:10.0px;line-height:20px;letter-spacing:0.288px;color:#1a1a1a;transform:scaleX(1.0817);transform-origin:right 50%;">0,000</div>
<div class="t" style="right:600.71px;top:307px;font-size:10.0px;line-height:20px;letter-spacing:0.294px;color:#1a1a1a;transform:scaleX(1.0817);transform-origin:right 50%;">23.090</div>
<div class="t" style="right:515.71px;top:307px;font-size:10.0px;line-height:20px;letter-spacing:0.288px;color:#1a1a1a;transform:scaleX(1.0817);transform-origin:right 50%;">5,920</div>
<div class="t" style="right:430.71px;top:307px;font-size:10.0px;line-height:20px;letter-spacing:0.294px;color:#1a1a1a;transform:scaleX(1.0817);transform-origin:right 50%;">23.090</div>
<div class="t" style="right:359.71px;top:307px;font-size:10.0px;line-height:20px;letter-spacing:0.288px;color:#1a1a1a;transform:scaleX(1.0817);transform-origin:right 50%;">0,250</div>
<div class="t" style="right:278.73px;top:307px;font-size:10.0px;line-height:20px;letter-spacing:0.268px;color:#1a1a1a;transform:scaleX(1.0785);transform-origin:right 50%;">-23.090</div>
<div class="t" style="right:224.71px;top:307px;font-size:10.0px;line-height:20px;letter-spacing:0.288px;color:#1a1a1a;transform:scaleX(1.0817);transform-origin:right 50%;">5,920</div>
<div class="t" style="right:134.71px;top:307px;font-size:10.0px;line-height:20px;letter-spacing:0.291px;color:#1a1a1a;transform:scaleX(1.0817);transform-origin:right 50%;">225.369,680</div>
<div class="t" style="right:30.70px;top:307px;font-size:10.0px;line-height:20px;letter-spacing:0.297px;color:#1a1a1a;transform:scaleX(1.0817);transform-origin:right 50%;">461,800</div>
<div class="t" style="left:10px;top:321px;font-size:10.0px;line-height:20px;letter-spacing:0.320px;color:#262677;transform:scaleX(1.0817);transform-origin:left 50%;">38</div>
<div class="t" style="left:42px;top:321px;font-size:10.0px;line-height:20px;letter-spacing:0.055px;color:#262677;transform:scaleX(1.0140);transform-origin:left 50%;">ZİRAAT</div>
<div class="t" style="right:775.70px;top:321px;font-size:10.0px;line-height:20px;letter-spacing:0.297px;color:#262677;transform:scaleX(1.0817);transform-origin:right 50%;">238.372</div>
<div class="t" style="right:693.71px;top:321px;font-size:10.0px;line-height:20px;letter-spacing:0.288px;color:#262677;transform:scaleX(1.0817);transform-origin:right 50%;">5,904</div>
<div class="t" style="right:600.70px;top:321px;font-size:10.0px;line-height:20px;letter-spacing:0.297px;color:#262677;transform:scaleX(1.0817);transform-origin:right 50%;">312.668</div>
<div class="t" style="right:515.71px;top:321px;font-size:10.0px;line-height:20px;letter-spacing:0.288px;color:#262677;transform:scaleX(1.0817);transform-origin:right 50%;">5,887</div>
<div class="t" style="right:430.70px;top:321px;font-size:10.0px;line-height:20px;letter-spacing:0.297px;color:#262677;transform:scaleX(1.0817);transform-origin:right 50%;">551.040</div>
<div class="t" style="right:359.71px;top:321px;font-size:10.0px;line-height:20px;letter-spacing:0.288px;color:#262677;transform:scaleX(1.0817);transform-origin:right 50%;">5,963</div>
<div class="t" style="right:278.73px;top:321px;font-size:10.0px;line-height:20px;letter-spacing:0.268px;color:#262677;transform:scaleX(1.0785);transform-origin:right 50%;">-74.296</div>
<div class="t" style="right:224.71px;top:321px;font-size:10.0px;line-height:20px;letter-spacing:0.288px;color:#262677;transform:scaleX(1.0817);transform-origin:right 50%;">5,834</div>
<div class="t" style="right:134.71px;top:321px;font-size:10.0px;line-height:20px;letter-spacing:0.286px;color:#262677;transform:scaleX(1.0817);transform-origin:right 50%;">21.010.698,990</div>
<div class="t" style="right:30.73px;top:321px;font-size:10.0px;line-height:20px;letter-spacing:0.267px;color:#262677;transform:scaleX(1.0794);transform-origin:right 50%;">-4.889,540</div>
<div class="t" style="left:10px;top:335px;font-size:10.0px;line-height:20px;letter-spacing:0.320px;color:#1a1a1a;transform:scaleX(1.0817);transform-origin:left 50%;">39</div>
<div class="t" style="left:42px;top:335px;font-size:10.0px;line-height:20px;letter-spacing:0.012px;color:#1a1a1a;">AK</div>
<div class="t" style="right:775.70px;top:335px;font-size:10.0px;line-height:20px;letter-spacing:0.297px;color:#1a1a1a;transform:scaleX(1.0817);transform-origin:right 50%;">272.715</div>
<div class="t" style="right:693.71px;top:335px;font-size:10.0px;line-height:20px;letter-spacing:0.288px;color:#1a1a1a;transform:scaleX(1.0817);transform-origin:right 50%;">5,862</div>
<div class="t" style="right:600.70px;top:335px;font-size:10.0px;line-height:20px;letter-spacing:0.297px;color:#1a1a1a;transform:scaleX(1.0817);transform-origin:right 50%;">355.334</div>
<div class="t" style="right:515.71px;top:335px;font-size:10.0px;line-height:20px;letter-spacing:0.288px;color:#1a1a1a;transform:scaleX(1.0817);transform-origin:right 50%;">5,866</div>
<div class="t" style="right:430.70px;top:335px;font-size:10.0px;line-height:20px;letter-spacing:0.297px;color:#1a1a1a;transform:scaleX(1.0817);transform-origin:right 50%;">628.049</div>
<div class="t" style="right:359.71px;top:335px;font-size:10.0px;line-height:20px;letter-spacing:0.288px;color:#1a1a1a;transform:scaleX(1.0817);transform-origin:right 50%;">6,796</div>
<div class="t" style="right:278.73px;top:335px;font-size:10.0px;line-height:20px;letter-spacing:0.268px;color:#1a1a1a;transform:scaleX(1.0785);transform-origin:right 50%;">-82.619</div>
<div class="t" style="right:224.71px;top:335px;font-size:10.0px;line-height:20px;letter-spacing:0.288px;color:#1a1a1a;transform:scaleX(1.0817);transform-origin:right 50%;">5,877</div>
<div class="t" style="right:134.72px;top:335px;font-size:10.0px;line-height:20px;letter-spacing:0.283px;color:#1a1a1a;transform:scaleX(1.0817);transform-origin:right 50%;">8.635.927,650</div>
<div class="t" style="right:30.73px;top:335px;font-size:10.0px;line-height:20px;letter-spacing:0.267px;color:#1a1a1a;transform:scaleX(1.0794);transform-origin:right 50%;">-1.906,950</div>
<div class="t" style="left:10px;top:349px;font-size:10.0px;line-height:20px;letter-spacing:0.320px;color:#262677;transform:scaleX(1.0817);transform-origin:left 50%;">40</div>
<div class="t" style="left:42px;top:349px;font-size:10.0px;line-height:20px;letter-spacing:0.050px;color:#262677;transform:scaleX(1.0117);transform-origin:left 50%;">MİDAS</div>
<div class="t" style="right:775.71px;top:349px;font-size:10.0px;line-height:20px;letter-spacing:0.294px;color:#262677;transform:scaleX(1.0817);transform-origin:right 50%;">99.415</div>
<div class="t" style="right:693.71px;top:349px;font-size:10.0px;line-height:20px;letter-spacing:0.288px;color:#262677;transform:scaleX(1.0817);transform-origin:right 50%;">5,901</div>
<div class="t" style="right:600.70px;top:349px;font-size:10.0px;line-height:20px;letter-spacing:0.297px;color:#262677;transform:scaleX(1.0817);transform-origin:right 50%;">215.401</div>
<div class="t" style="right:515.71px;top:349px;font-size:10.0px;line-height:20px;letter-spacing:0.288px;color:#262677;transform:scaleX(1.0817);transform-origin:right 50%;">5,852</div>
<div class="t" style="right:430.70px;top:349px;font-size:10.0px;line-height:20px;letter-spacing:0.297px;color:#262677;transform:scaleX(1.0817);transform-origin:right 50%;">314.816</div>
<div class="t" style="right:359.71px;top:349px;font-size:10.0px;line-height:20px;letter-spacing:0.288px;color:#262677;transform:scaleX(1.0817);transform-origin:right 50%;">3,406</div>
<div class="t" style="right:278.69px;top:349px;font-size:10.0px;line-height:20px;letter-spacing:0.311px;color:#262677;transform:scaleX(1.0906);transform-origin:right 50%;">-115.986</div>
<div class="t" style="right:224.65px;top:349px;font-size:10.0px;line-height:20px;letter-spacing:0.348px;color:#262677;transform:scaleX(1.1002);transform-origin:right 50%;">5,811</div>
<div class="t" style="right:134.72px;top:349px;font-size:10.0px;line-height:20px;letter-spacing:0.283px;color:#262677;transform:scaleX(1.0817);transform-origin:right 50%;">2.301.209,320</div>
<div class="t" style="right:30.73px;top:349px;font-size:10.0px;line-height:20px;letter-spacing:0.272px;color:#262677;transform:scaleX(1.0797);transform-origin:right 50%;">-10.313,180</div>
<div class="t" style="left:10px;top:363px;font-size:10.0px;line-height:20px;letter-spacing:0.320px;color:#1a1a1a;transform:scaleX(1.0817);transform-origin:left 50%;">41</div>
<div class="t" style="left:42px;top:363px;font-size:10.0px;line-height:20px;letter-spacing:-0.008px;color:#1a1a1a;">KUVEYT TÜRK YATIRI</div>
<div class="t" style="right:775.71px;top:363px;font-size:10.0px;line-height:20px;letter-spacing:0.294px;color:#1a1a1a;transform:scaleX(1.0817);transform-origin:right 50%;">29.462</div>
<div class="t" style="right:693.71px;top:363px;font-size:10.0px;line-height:20px;letter-spacing:0.288px;color:#1a1a1a;transform:scaleX(1.0817);transform-origin:right 50%;">5,867</div>
<div class="t" style="right:600.70px;top:363px;font-size:10.0px;line-height:20px;letter-spacing:0.297px;color:#1a1a1a;transform:scaleX(1.0817);transform-origin:right 50%;">166.825</div>
<div class="t" style="right:515.71px;top:363px;font-size:10.0px;line-height:20px;letter-spacing:0.288px;color:#1a1a1a;transform:scaleX(1.0817);transform-origin:right 50%;">5,917</div>
<div class="t" style="right:430.70px;top:363px;font-size:10.0px;line-height:20px;letter-spacing:0.297px;color:#1a1a1a;transform:scaleX(1.0817);transform-origin:right 50%;">196.287</div>
<div class="t" style="right:359.71px;top:363px;font-size:10.0px;line-height:20px;letter-spacing:0.288px;color:#1a1a1a;transform:scaleX(1.0817);transform-origin:right 50%;">2,124</div>
<div class="t" style="right:278.73px;top:363px;font-size:10.0px;line-height:20px;letter-spacing:0.274px;color:#1a1a1a;transform:scaleX(1.0790);transform-origin:right 50%;">-137.363</div>
<div class="t" style="right:224.71px;top:363px;font-size:10.0px;line-height:20px;letter-spacing:0.288px;color:#1a1a1a;transform:scaleX(1.0817);transform-origin:right 50%;">5,928</div>
<div class="t" style="right:134.72px;top:363px;font-size:10.0px;line-height:20px;letter-spacing:0.283px;color:#1a1a1a;transform:scaleX(1.0817);transform-origin:right 50%;">8.855.805,130</div>
<div class="t" style="right:30.72px;top:363px;font-size:10.0px;line-height:20px;letter-spacing:0.285px;color:#1a1a1a;transform:scaleX(1.0817);transform-origin:right 50%;">3.863,470</div>
<div class="t" style="left:10px;top:377px;font-size:10.0px;line-height:20px;letter-spacing:0.320px;color:#262677;transform:scaleX(1.0817);transform-origin:left 50%;">42</div>
<div class="t" style="left:42px;top:377px;font-size:10.0px;line-height:20px;letter-spacing:0.013px;color:#262677;">GEDİK</div>
<div class="t" style="right:775.71px;top:377px;font-size:10.0px;line-height:20px;letter-spacing:0.294px;color:#262677;transform:scaleX(1.0817);transform-origin:right 50%;">37.901</div>
<div class="t" style="right:693.71px;top:377px;font-size:10.0px;line-height:20px;letter-spacing:0.288px;color:#262677;transform:scaleX(1.0817);transform-origin:right 50%;">5,853</div>
<div class="t" style="right:600.70px;top:377px;font-size:10.0px;line-height:20px;letter-spacing:0.297px;color:#262677;transform:scaleX(1.0817);transform-origin:right 50%;">178.672</div>
<div class="t" style="right:515.71px;top:377px;font-size:10.0px;line-height:20px;letter-spacing:0.288px;color:#262677;transform:scaleX(1.0817);transform-origin:right 50%;">5,887</div>
<div class="t" style="right:430.70px;top:377px;font-size:10.0px;line-height:20px;letter-spacing:0.297px;color:#262677;transform:scaleX(1.0817);transform-origin:right 50%;">216.573</div>
<div class="t" style="right:359.71px;top:377px;font-size:10.0px;line-height:20px;letter-spacing:0.288px;color:#262677;transform:scaleX(1.0817);transform-origin:right 50%;">2,343</div>
<div class="t" style="right:278.73px;top:377px;font-size:10.0px;line-height:20px;letter-spacing:0.274px;color:#262677;transform:scaleX(1.0790);transform-origin:right 50%;">-140.771</div>
<div class="t" style="right:224.71px;top:377px;font-size:10.0px;line-height:20px;letter-spacing:0.288px;color:#262677;transform:scaleX(1.0817);transform-origin:right 50%;">5,896</div>
<div class="t" style="right:134.72px;top:377px;font-size:10.0px;line-height:20px;letter-spacing:0.283px;color:#262677;transform:scaleX(1.0817);transform-origin:right 50%;">2.843.830,390</div>
<div class="t" style="right:30.73px;top:377px;font-size:10.0px;line-height:20px;letter-spacing:0.274px;color:#262677;transform:scaleX(1.0790);transform-origin:right 50%;">-620,640</div>
<div class="t" style="left:10px;top:391px;font-size:10.0px;line-height:20px;letter-spacing:0.320px;color:#1a1a1a;transform:scaleX(1.0817);transform-origin:left 50%;">43</div>
<div class="t" style="left:42px;top:391px;font-size:10.0px;line-height:20px;letter-spacing:-0.003px;color:#1a1a1a;">ÜNLÜ</div>
<div class="t" style="right:775.71px;top:391px;font-size:10.0px;line-height:20px;letter-spacing:0.294px;color:#1a1a1a;transform:scaleX(1.0817);transform-origin:right 50%;">91.065</div>
<div class="t" style="right:693.71px;top:391px;font-size:10.0px;line-height:20px;letter-spacing:0.288px;color:#1a1a1a;transform:scaleX(1.0817);transform-origin:right 50%;">5,810</div>
<div class="t" style="right:600.70px;top:391px;font-size:10.0px;line-height:20px;letter-spacing:0.297px;color:#1a1a1a;transform:scaleX(1.0817);transform-origin:right 50%;">232.686</div>
<div class="t" style="right:515.71px;top:391px;font-size:10.0px;line-height:20px;letter-spacing:0.288px;color:#1a1a1a;transform:scaleX(1.0817);transform-origin:right 50%;">5,820</div>
<div class="t" style="right:430.70px;top:391px;font-size:10.0px;line-height:20px;letter-spacing:0.297px;color:#1a1a1a;transform:scaleX(1.0817);transform-origin:right 50%;">323.751</div>
<div class="t" style="right:359.71px;top:391px;font-size:10.0px;line-height:20px;letter-spacing:0.288px;color:#1a1a1a;transform:scaleX(1.0817);transform-origin:right 50%;">3,503</div>
<div class="t" style="right:278.73px;top:391px;font-size:10.0px;line-height:20px;letter-spacing:0.274px;color:#1a1a1a;transform:scaleX(1.0790);transform-origin:right 50%;">-141.621</div>
<div class="t" style="right:224.71px;top:391px;font-size:10.0px;line-height:20px;letter-spacing:0.288px;color:#1a1a1a;transform:scaleX(1.0817);transform-origin:right 50%;">5,827</div>
<div class="t" style="right:134.71px;top:391px;font-size:10.0px;line-height:20px;letter-spacing:0.291px;color:#1a1a1a;transform:scaleX(1.0817);transform-origin:right 50%;">159.735,690</div>
<div class="t" style="right:30.73px;top:391px;font-size:10.0px;line-height:20px;letter-spacing:0.272px;color:#1a1a1a;transform:scaleX(1.0797);transform-origin:right 50%;">-10.345,390</div>
<div class="t" style="left:10px;top:405px;font-size:10.0px;line-height:20px;letter-spacing:0.320px;color:#262677;transform:scaleX(1.0817);transform-origin:left 50%;">44</div>
<div class="t" style="left:42px;top:405px;font-size:10.0px;line-height:20px;letter-spacing:0.012px;color:#262677;">VAKIF</div>
<div class="t" style="right:775.71px;top:405px;font-size:10.0px;line-height:20px;letter-spacing:0.294px;color:#262677;transform:scaleX(1.0817);transform-origin:right 50%;">92.729</div>
<div class="t" style="right:693.71px;top:405px;font-size:10.0px;line-height:20px;letter-spacing:0.288px;color:#262677;transform:scaleX(1.0817);transform-origin:right 50%;">5,866</div>
<div class="t" style="right:600.70px;top:405px;font-size:10.0px;line-height:20px;letter-spacing:0.297px;color:#262677;transform:scaleX(1.0817);transform-origin:right 50%;">321.944</div>
<div class="t" style="right:515.71px;top:405px;font-size:10.0px;line-height:20px;letter-spacing:0.288px;color:#262677;transform:scaleX(1.0817);transform-origin:right 50%;">5,906</div>
<div class="t" style="right:430.70px;top:405px;font-size:10.0px;line-height:20px;letter-spacing:0.297px;color:#262677;transform:scaleX(1.0817);transform-origin:right 50%;">414.673</div>
<div class="t" style="right:359.71px;top:405px;font-size:10.0px;line-height:20px;letter-spacing:0.288px;color:#262677;transform:scaleX(1.0817);transform-origin:right 50%;">4,487</div>
<div class="t" style="right:278.73px;top:405px;font-size:10.0px;line-height:20px;letter-spacing:0.274px;color:#262677;transform:scaleX(1.0790);transform-origin:right 50%;">-229.215</div>
<div class="t" style="right:224.71px;top:405px;font-size:10.0px;line-height:20px;letter-spacing:0.288px;color:#262677;transform:scaleX(1.0817);transform-origin:right 50%;">5,922</div>
<div class="t" style="right:134.69px;top:405px;font-size:10.0px;line-height:20px;letter-spacing:0.307px;color:#262677;transform:scaleX(1.0883);transform-origin:right 50%;">30.114.896,490</div>
<div class="t" style="right:30.72px;top:405px;font-size:10.0px;line-height:20px;letter-spacing:0.285px;color:#262677;transform:scaleX(1.0817);transform-origin:right 50%;">5.156,860</div>
<div style="left:995px;top:198px;width:15px;height:224px;background:#b4b4b0"></div>
<svg style="left:995px;top:198px" width="15" height="224"><path d="M1.5 12 L7.5 2.5 L13.5 12 Z" fill="#f2c21c" stroke="#b8901a" stroke-width="0.6"/><path d="M1.5 212 L7.5 221.5 L13.5 212 Z" fill="#f2c21c" stroke="#b8901a" stroke-width="0.6"/></svg>
<div style="left:997px;top:217px;width:11px;height:86px;background:linear-gradient(90deg,#c7b26a,#d4bc6a 50%,#c7b26a);border-radius:1px"></div>
<div style="left:997px;top:303px;width:11px;height:101px;background:linear-gradient(90deg,#eab10a,#f4c010 50%,#e8ae08);border-radius:1px"></div>
<svg style="left:24px;top:428px" width="84" height="94"><path d="M82.00 42.00 A40 40 0 0 1 64.00 75.41 L64.00 85.41 A40 40 0 0 0 82.00 52.00 Z" fill="#9aab66"/><path d="M64.00 75.41 A40 40 0 0 1 22.33 76.83 L22.33 86.83 A40 40 0 0 0 64.00 85.41 Z" fill="#6f8fb4"/><path d="M22.33 76.83 A40 40 0 0 1 5.42 58.19 L5.42 68.19 A40 40 0 0 0 22.33 86.83 Z" fill="#b4746c"/><path d="M5.42 58.19 A40 40 0 0 1 2.41 47.72 L2.41 57.72 A40 40 0 0 0 5.42 68.19 Z" fill="#c2a866"/><path d="M2.41 47.72 A40 40 0 0 1 2.00 42.00 L2.00 52.00 A40 40 0 0 0 2.41 57.72 Z" fill="#8a7ca4"/><path d="M42 42 L42.00 2.00 A40 40 0 0 1 64.00 75.41 Z" fill="#c6d98f"/><path d="M42 42 L64.00 75.41 A40 40 0 0 1 22.33 76.83 Z" fill="#9dbfe3"/><path d="M42 42 L22.33 76.83 A40 40 0 0 1 5.42 58.19 Z" fill="#e9a09c"/><path d="M42 42 L5.42 58.19 A40 40 0 0 1 2.41 47.72 Z" fill="#f7da94"/><path d="M42 42 L2.41 47.72 A40 40 0 0 1 2.16 38.44 Z" fill="#aea1ca"/><path d="M42 42 L2.16 38.44 A40 40 0 0 1 42.00 2.00 Z" fill="#c9d9dc"/><path d="M2 42 A40 40 0 0 0 82 42 L82 52 A40 40 0 0 1 2 52 Z" fill="none" stroke="rgba(0,0,0,0.10)" stroke-width="0.7"/><circle cx="42" cy="42" r="40" fill="none" stroke="rgba(0,0,0,0.13)" stroke-width="0.7"/></svg>
<svg style="left:360px;top:428px" width="84" height="94"><path d="M82.00 42.00 A40 40 0 0 1 71.19 69.35 L71.19 79.35 A40 40 0 0 0 82.00 52.00 Z" fill="#6f8fb4"/><path d="M71.19 69.35 A40 40 0 0 1 39.44 81.92 L39.44 91.92 A40 40 0 0 0 71.19 79.35 Z" fill="#b4746c"/><path d="M39.44 81.92 A40 40 0 0 1 10.06 66.08 L10.06 76.08 A40 40 0 0 0 39.44 91.92 Z" fill="#c2a866"/><path d="M10.06 66.08 A40 40 0 0 1 2.00 42.00 L2.00 52.00 A40 40 0 0 0 10.06 76.08 Z" fill="#8a7ca4"/><path d="M42 42 L42.00 2.00 A40 40 0 0 1 81.64 36.63 Z" fill="#c6d98f"/><path d="M42 42 L81.64 36.63 A40 40 0 0 1 71.19 69.35 Z" fill="#9dbfe3"/><path d="M42 42 L71.19 69.35 A40 40 0 0 1 39.44 81.92 Z" fill="#e9a09c"/><path d="M42 42 L39.44 81.92 A40 40 0 0 1 10.06 66.08 Z" fill="#f7da94"/><path d="M42 42 L10.06 66.08 A40 40 0 0 1 2.13 38.77 Z" fill="#aea1ca"/><path d="M42 42 L2.13 38.77 A40 40 0 0 1 42.00 2.00 Z" fill="#c9d9dc"/><path d="M2 42 A40 40 0 0 0 82 42 L82 52 A40 40 0 0 1 2 52 Z" fill="none" stroke="rgba(0,0,0,0.10)" stroke-width="0.7"/><circle cx="42" cy="42" r="40" fill="none" stroke="rgba(0,0,0,0.13)" stroke-width="0.7"/></svg>
<svg style="left:696px;top:428px" width="84" height="94"><path d="M82.00 42.00 A40 40 0 0 1 66.56 73.57 L66.56 83.57 A40 40 0 0 0 82.00 52.00 Z" fill="#6f8fb4"/><path d="M66.56 73.57 A40 40 0 0 1 50.48 81.09 L50.48 91.09 A40 40 0 0 0 66.56 83.57 Z" fill="#b4746c"/><path d="M50.48 81.09 A40 40 0 0 1 33.53 81.09 L33.53 91.09 A40 40 0 0 0 50.48 91.09 Z" fill="#c2a866"/><path d="M33.53 81.09 A40 40 0 0 1 18.20 74.15 L18.20 84.15 A40 40 0 0 0 33.53 91.09 Z" fill="#8a7ca4"/><path d="M18.20 74.15 A40 40 0 0 1 2.00 42.00 L2.00 52.00 A40 40 0 0 0 18.20 84.15 Z" fill="#9aabb0"/><path d="M42 42 L42.00 2.00 A40 40 0 0 1 81.15 33.79 Z" fill="#c6d98f"/><path d="M42 42 L81.15 33.79 A40 40 0 0 1 66.56 73.57 Z" fill="#9dbfe3"/><path d="M42 42 L66.56 73.57 A40 40 0 0 1 50.48 81.09 Z" fill="#e9a09c"/><path d="M42 42 L50.48 81.09 A40 40 0 0 1 33.53 81.09 Z" fill="#f7da94"/><path d="M42 42 L33.53 81.09 A40 40 0 0 1 18.20 74.15 Z" fill="#aea1ca"/><path d="M42 42 L18.20 74.15 A40 40 0 0 1 42.00 2.00 Z" fill="#c9d9dc"/><path d="M2 42 A40 40 0 0 0 82 42 L82 52 A40 40 0 0 1 2 52 Z" fill="none" stroke="rgba(0,0,0,0.10)" stroke-width="0.7"/><circle cx="42" cy="42" r="40" fill="none" stroke="rgba(0,0,0,0.13)" stroke-width="0.7"/></svg>
<div class="t" style="left:132px;top:433px;font-size:10.2px;line-height:20px;letter-spacing:0.256px;color:#2a2a6e;transform:scaleX(1.0818);transform-origin:left 50%;">Ilk 5 Net: 766.266</div>
<div class="t" style="left:132px;top:458px;font-size:10.2px;line-height:20px;letter-spacing:0.202px;color:#2a2a6e;transform:scaleX(1.0632);transform-origin:left 50%;">Ilk 5 Yüzde: 76,417</div>
<div class="t" style="left:132px;top:483px;font-size:10.2px;line-height:20px;letter-spacing:0.252px;color:#2a2a6e;transform:scaleX(1.0839);transform-origin:left 50%;">Ilk 5 Maliyet: 5,873</div>
<div class="t" style="left:123px;top:508px;font-size:10.1px;line-height:20px;letter-spacing:0.117px;color:#d83636;transform:scaleX(1.0360);transform-origin:left 50%;">Net Alım</div>
<div class="t" style="left:468px;top:433px;font-size:10.2px;line-height:20px;letter-spacing:0.249px;color:#2a2a6e;transform:scaleX(1.0805);transform-origin:left 50%;">Ilk 5 Net: -764.956</div>
<div class="t" style="left:468px;top:458px;font-size:10.2px;line-height:20px;letter-spacing:0.202px;color:#2a2a6e;transform:scaleX(1.0632);transform-origin:left 50%;">Ilk 5 Yüzde: 76,286</div>
<div class="t" style="left:468px;top:483px;font-size:10.2px;line-height:20px;letter-spacing:0.252px;color:#2a2a6e;transform:scaleX(1.0839);transform-origin:left 50%;">Ilk 5 Maliyet: 5,884</div>
<div class="t" style="left:454.5px;top:508px;font-size:10.1px;line-height:20px;letter-spacing:0.090px;color:#d83636;transform:scaleX(1.0264);transform-origin:left 50%;">Net Satım</div>
<div class="t" style="left:804px;top:433px;font-size:10.2px;line-height:20px;letter-spacing:0.248px;color:#2a2a6e;transform:scaleX(1.0771);transform-origin:left 50%;">Ilk 5 Toplam: 5.558.309</div>
<div class="t" style="left:804px;top:450px;font-size:10.2px;line-height:20px;letter-spacing:0.248px;color:#2a2a6e;transform:scaleX(1.0819);transform-origin:left 50%;">Ilk 5 Net: 1.310</div>
<div class="t" style="left:804px;top:467px;font-size:10.2px;line-height:20px;letter-spacing:0.202px;color:#2a2a6e;transform:scaleX(1.0632);transform-origin:left 50%;">Ilk 5 Yüzde: 60,144</div>
<div class="t" style="left:804px;top:484px;font-size:10.2px;line-height:20px;letter-spacing:0.252px;color:#2a2a6e;transform:scaleX(1.0839);transform-origin:left 50%;">Ilk 5 Maliyet: 5,913</div>
<div class="t" style="left:788px;top:508px;font-size:10.1px;line-height:20px;letter-spacing:0.070px;color:#d83636;transform:scaleX(1.0210);transform-origin:left 50%;">Toplam Lot</div>
<div style="left:8px;top:528px;width:275px;height:99px;border:1px solid #a6a6a6;box-sizing:border-box;background:#ffffff"></div>
<div style="left:9px;top:529px;width:273px;height:12px;background:linear-gradient(#fafafa 0%,#f6f6f6 50%,#e8e8e8 54%,#eaeaea 84%,#f2f2f2 100%)"></div>
<div style="left:9px;top:541px;width:273px;height:1px;background:#c4c4c4"></div>
<div style="left:85px;top:542px;width:197px;height:13px;background:#ffffff"></div>
<div style="left:9px;top:542px;width:75px;height:13px;background:#c6d98f"></div>
<div style="left:9px;top:555px;width:273px;height:1px;background:#d2d2d2"></div>
<div style="left:85px;top:556px;width:197px;height:13px;background:#eeeeee"></div>
<div style="left:9px;top:556px;width:75px;height:13px;background:#9dbfe3"></div>
<div style="left:9px;top:569px;width:273px;height:1px;background:#d2d2d2"></div>
<div style="left:85px;top:570px;width:197px;height:13px;background:#ffffff"></div>
<div style="left:9px;top:570px;width:75px;height:13px;background:#e9a09c"></div>
<div style="left:9px;top:583px;width:273px;height:1px;background:#d2d2d2"></div>
<div style="left:85px;top:584px;width:197px;height:13px;background:#eeeeee"></div>
<div style="left:9px;top:584px;width:75px;height:13px;background:#f7da94"></div>
<div style="left:9px;top:597px;width:273px;height:1px;background:#d2d2d2"></div>
<div style="left:85px;top:598px;width:197px;height:13px;background:#ffffff"></div>
<div style="left:9px;top:598px;width:75px;height:13px;background:#aea1ca"></div>
<div style="left:9px;top:611px;width:273px;height:1px;background:#d2d2d2"></div>
<div style="left:85px;top:612px;width:197px;height:13px;background:#eeeeee"></div>
<div style="left:9px;top:612px;width:75px;height:13px;background:#c9d9dc"></div>
<div style="left:9px;top:625px;width:273px;height:1px;background:#d2d2d2"></div>
<div style="left:84px;top:529px;width:1px;height:96px;background:#d0d0d0"></div>
<div style="left:140px;top:529px;width:1px;height:96px;background:#d0d0d0"></div>
<div style="left:187px;top:529px;width:1px;height:96px;background:#d0d0d0"></div>
<div style="left:234px;top:529px;width:1px;height:96px;background:#d0d0d0"></div>
<div class="t" style="left:12px;top:526px;font-size:10.2px;line-height:20px;letter-spacing:-0.027px;color:#1a1a1a;-webkit-text-stroke:0.05px currentColor;transform:scaleX(0.9920);transform-origin:left 50%;">Aracı Kurum</div>
<div class="t" style="left:88px;top:526px;font-size:10.2px;line-height:20px;letter-spacing:0.048px;color:#1a1a1a;-webkit-text-stroke:0.05px currentColor;transform:scaleX(1.0147);transform-origin:left 50%;">Net Adet</div>
<div class="t" style="left:144px;top:526px;font-size:10.2px;line-height:20px;letter-spacing:-0.150px;color:#1a1a1a;-webkit-text-stroke:0.05px currentColor;transform:scaleX(0.9747);transform-origin:left 50%;">%</div>
<div class="t" style="left:191px;top:526px;font-size:10.2px;line-height:20px;letter-spacing:0.052px;color:#1a1a1a;-webkit-text-stroke:0.05px currentColor;transform:scaleX(1.0167);transform-origin:left 50%;">Maliyet</div>
<div class="t" style="left:238px;top:526px;font-size:10.2px;line-height:20px;letter-spacing:-0.122px;color:#1a1a1a;-webkit-text-stroke:0.05px currentColor;transform:scaleX(0.9687);transform-origin:left 50%;">Takas%</div>
<div class="t" style="left:11px;top:539px;font-size:10.0px;line-height:20px;letter-spacing:0.062px;color:#1a1a1a;transform:scaleX(1.0150);transform-origin:left 50%;">BANK OF AME</div>
<div class="t" style="right:878.70px;top:539px;font-size:10.0px;line-height:20px;letter-spacing:0.297px;color:#1a1a1a;transform:scaleX(1.0817);transform-origin:right 50%;">408.449</div>
<div class="t" style="right:831.71px;top:539px;font-size:10.0px;line-height:20px;letter-spacing:0.294px;color:#1a1a1a;transform:scaleX(1.0817);transform-origin:right 50%;">40,733</div>
<div class="t" style="right:784.71px;top:539px;font-size:10.0px;line-height:20px;letter-spacing:0.288px;color:#1a1a1a;transform:scaleX(1.0817);transform-origin:right 50%;">5,882</div>
<div class="t" style="right:738.71px;top:539px;font-size:10.0px;line-height:20px;letter-spacing:0.288px;color:#1a1a1a;transform:scaleX(1.0817);transform-origin:right 50%;">3,413</div>
<div class="t" style="left:11px;top:553px;font-size:10.0px;line-height:20px;letter-spacing:-0.044px;color:#1a1a1a;transform:scaleX(0.9887);transform-origin:left 50%;">YAPIKREDİ</div>
<div class="t" style="right:878.70px;top:553px;font-size:10.0px;line-height:20px;letter-spacing:0.297px;color:#262677;transform:scaleX(1.0817);transform-origin:right 50%;">174.963</div>
<div class="t" style="right:831.71px;top:553px;font-size:10.0px;line-height:20px;letter-spacing:0.294px;color:#262677;transform:scaleX(1.0817);transform-origin:right 50%;">17,448</div>
<div class="t" style="right:784.71px;top:553px;font-size:10.0px;line-height:20px;letter-spacing:0.288px;color:#262677;transform:scaleX(1.0817);transform-origin:right 50%;">5,897</div>
<div class="t" style="right:738.71px;top:553px;font-size:10.0px;line-height:20px;letter-spacing:0.288px;color:#262677;transform:scaleX(1.0817);transform-origin:right 50%;">5,351</div>
<div class="t" style="left:11px;top:567px;font-size:10.0px;line-height:20px;letter-spacing:-0.021px;color:#1a1a1a;">TEB</div>
<div class="t" style="right:878.70px;top:567px;font-size:10.0px;line-height:20px;letter-spacing:0.297px;color:#1a1a1a;transform:scaleX(1.0817);transform-origin:right 50%;">102.145</div>
<div class="t" style="right:831.71px;top:567px;font-size:10.0px;line-height:20px;letter-spacing:0.294px;color:#1a1a1a;transform:scaleX(1.0817);transform-origin:right 50%;">10,187</div>
<div class="t" style="right:784.71px;top:567px;font-size:10.0px;line-height:20px;letter-spacing:0.288px;color:#1a1a1a;transform:scaleX(1.0817);transform-origin:right 50%;">5,846</div>
<div class="t" style="right:738.71px;top:567px;font-size:10.0px;line-height:20px;letter-spacing:0.288px;color:#1a1a1a;transform:scaleX(1.0817);transform-origin:right 50%;">3,048</div>
<div class="t" style="left:11px;top:581px;font-size:10.0px;line-height:20px;letter-spacing:0.194px;color:#1a1a1a;transform:scaleX(1.0462);transform-origin:left 50%;">A1</div>
<div class="t" style="right:878.71px;top:581px;font-size:10.0px;line-height:20px;letter-spacing:0.294px;color:#262677;transform:scaleX(1.0817);transform-origin:right 50%;">43.613</div>
<div class="t" style="right:831.71px;top:581px;font-size:10.0px;line-height:20px;letter-spacing:0.288px;color:#262677;transform:scaleX(1.0817);transform-origin:right 50%;">4,349</div>
<div class="t" style="right:784.71px;top:581px;font-size:10.0px;line-height:20px;letter-spacing:0.288px;color:#262677;transform:scaleX(1.0817);transform-origin:right 50%;">5,793</div>
<div class="t" style="right:738.71px;top:581px;font-size:10.0px;line-height:20px;letter-spacing:0.288px;color:#262677;transform:scaleX(1.0817);transform-origin:right 50%;">1,013</div>
<div class="t" style="left:11px;top:595px;font-size:10.0px;line-height:20px;letter-spacing:0.104px;color:#1a1a1a;transform:scaleX(1.0255);transform-origin:left 50%;">DENİZ</div>
<div class="t" style="right:878.71px;top:595px;font-size:10.0px;line-height:20px;letter-spacing:0.294px;color:#1a1a1a;transform:scaleX(1.0817);transform-origin:right 50%;">37.096</div>
<div class="t" style="right:831.71px;top:595px;font-size:10.0px;line-height:20px;letter-spacing:0.288px;color:#1a1a1a;transform:scaleX(1.0817);transform-origin:right 50%;">3,699</div>
<div class="t" style="right:784.71px;top:595px;font-size:10.0px;line-height:20px;letter-spacing:0.288px;color:#1a1a1a;transform:scaleX(1.0817);transform-origin:right 50%;">5,838</div>
<div class="t" style="right:738.71px;top:595px;font-size:10.0px;line-height:20px;letter-spacing:0.288px;color:#1a1a1a;transform:scaleX(1.0817);transform-origin:right 50%;">2,059</div>
<div class="t" style="left:11px;top:609px;font-size:10.0px;line-height:20px;letter-spacing:0.255px;color:#1a1a1a;transform:scaleX(1.0761);transform-origin:left 50%;">Diğer</div>
<div class="t" style="right:878.70px;top:609px;font-size:10.0px;line-height:20px;letter-spacing:0.297px;color:#262677;transform:scaleX(1.0817);transform-origin:right 50%;">236.480</div>
<div class="t" style="right:831.71px;top:609px;font-size:10.0px;line-height:20px;letter-spacing:0.294px;color:#262677;transform:scaleX(1.0817);transform-origin:right 50%;">23,583</div>
<div class="t" style="right:738.71px;top:609px;font-size:10.0px;line-height:20px;letter-spacing:0.294px;color:#262677;transform:scaleX(1.0817);transform-origin:right 50%;">25,610</div>
<div style="left:344px;top:528px;width:275px;height:99px;border:1px solid #a6a6a6;box-sizing:border-box;background:#ffffff"></div>
<div style="left:345px;top:529px;width:273px;height:12px;background:linear-gradient(#fafafa 0%,#f6f6f6 50%,#e8e8e8 54%,#eaeaea 84%,#f2f2f2 100%)"></div>
<div style="left:345px;top:541px;width:273px;height:1px;background:#c4c4c4"></div>
<div style="left:421px;top:542px;width:197px;height:13px;background:#ffffff"></div>
<div style="left:345px;top:542px;width:75px;height:13px;background:#c6d98f"></div>
<div style="left:345px;top:555px;width:273px;height:1px;background:#d2d2d2"></div>
<div style="left:421px;top:556px;width:197px;height:13px;background:#eeeeee"></div>
<div style="left:345px;top:556px;width:75px;height:13px;background:#9dbfe3"></div>
<div style="left:345px;top:569px;width:273px;height:1px;background:#d2d2d2"></div>
<div style="left:421px;top:570px;width:197px;height:13px;background:#ffffff"></div>
<div style="left:345px;top:570px;width:75px;height:13px;background:#e9a09c"></div>
<div style="left:345px;top:583px;width:273px;height:1px;background:#d2d2d2"></div>
<div style="left:421px;top:584px;width:197px;height:13px;background:#eeeeee"></div>
<div style="left:345px;top:584px;width:75px;height:13px;background:#f7da94"></div>
<div style="left:345px;top:597px;width:273px;height:1px;background:#d2d2d2"></div>
<div style="left:421px;top:598px;width:197px;height:13px;background:#ffffff"></div>
<div style="left:345px;top:598px;width:75px;height:13px;background:#aea1ca"></div>
<div style="left:345px;top:611px;width:273px;height:1px;background:#d2d2d2"></div>
<div style="left:421px;top:612px;width:197px;height:13px;background:#eeeeee"></div>
<div style="left:345px;top:612px;width:75px;height:13px;background:#c9d9dc"></div>
<div style="left:345px;top:625px;width:273px;height:1px;background:#d2d2d2"></div>
<div style="left:420px;top:529px;width:1px;height:96px;background:#d0d0d0"></div>
<div style="left:476px;top:529px;width:1px;height:96px;background:#d0d0d0"></div>
<div style="left:523px;top:529px;width:1px;height:96px;background:#d0d0d0"></div>
<div style="left:570px;top:529px;width:1px;height:96px;background:#d0d0d0"></div>
<div class="t" style="left:348px;top:526px;font-size:10.2px;line-height:20px;letter-spacing:-0.027px;color:#1a1a1a;-webkit-text-stroke:0.05px currentColor;transform:scaleX(0.9920);transform-origin:left 50%;">Aracı Kurum</div>
<div class="t" style="left:424px;top:526px;font-size:10.2px;line-height:20px;letter-spacing:0.048px;color:#1a1a1a;-webkit-text-stroke:0.05px currentColor;transform:scaleX(1.0147);transform-origin:left 50%;">Net Adet</div>
<div class="t" style="left:480px;top:526px;font-size:10.2px;line-height:20px;letter-spacing:-0.150px;color:#1a1a1a;-webkit-text-stroke:0.05px currentColor;transform:scaleX(0.9747);transform-origin:left 50%;">%</div>
<div class="t" style="left:527px;top:526px;font-size:10.2px;line-height:20px;letter-spacing:0.052px;color:#1a1a1a;-webkit-text-stroke:0.05px currentColor;transform:scaleX(1.0167);transform-origin:left 50%;">Maliyet</div>
<div class="t" style="left:574px;top:526px;font-size:10.2px;line-height:20px;letter-spacing:-0.122px;color:#1a1a1a;-webkit-text-stroke:0.05px currentColor;transform:scaleX(0.9687);transform-origin:left 50%;">Takas%</div>
<div class="t" style="left:347px;top:539px;font-size:10.0px;line-height:20px;letter-spacing:0.012px;color:#1a1a1a;">VAKIF</div>
<div class="t" style="right:542.73px;top:539px;font-size:10.0px;line-height:20px;letter-spacing:0.274px;color:#1a1a1a;transform:scaleX(1.0790);transform-origin:right 50%;">-229.215</div>
<div class="t" style="right:495.71px;top:539px;font-size:10.0px;line-height:20px;letter-spacing:0.294px;color:#1a1a1a;transform:scaleX(1.0817);transform-origin:right 50%;">22,859</div>
<div class="t" style="right:448.71px;top:539px;font-size:10.0px;line-height:20px;letter-spacing:0.288px;color:#1a1a1a;transform:scaleX(1.0817);transform-origin:right 50%;">5,922</div>
<div class="t" style="right:402.71px;top:539px;font-size:10.0px;line-height:20px;letter-spacing:0.294px;color:#1a1a1a;transform:scaleX(1.0817);transform-origin:right 50%;">17,530</div>
<div class="t" style="left:347px;top:553px;font-size:10.0px;line-height:20px;letter-spacing:-0.003px;color:#1a1a1a;">ÜNLÜ</div>
<div class="t" style="right:542.73px;top:553px;font-size:10.0px;line-height:20px;letter-spacing:0.274px;color:#262677;transform:scaleX(1.0790);transform-origin:right 50%;">-141.621</div>
<div class="t" style="right:495.71px;top:553px;font-size:10.0px;line-height:20px;letter-spacing:0.294px;color:#262677;transform:scaleX(1.0817);transform-origin:right 50%;">14,123</div>
<div class="t" style="right:448.71px;top:553px;font-size:10.0px;line-height:20px;letter-spacing:0.288px;color:#262677;transform:scaleX(1.0817);transform-origin:right 50%;">5,827</div>
<div class="t" style="right:402.71px;top:553px;font-size:10.0px;line-height:20px;letter-spacing:0.288px;color:#262677;transform:scaleX(1.0817);transform-origin:right 50%;">0,093</div>
<div class="t" style="left:347px;top:567px;font-size:10.0px;line-height:20px;letter-spacing:0.013px;color:#1a1a1a;">GEDİK</div>
<div class="t" style="right:542.73px;top:567px;font-size:10.0px;line-height:20px;letter-spacing:0.274px;color:#1a1a1a;transform:scaleX(1.0790);transform-origin:right 50%;">-140.771</div>
<div class="t" style="right:495.71px;top:567px;font-size:10.0px;line-height:20px;letter-spacing:0.294px;color:#1a1a1a;transform:scaleX(1.0817);transform-origin:right 50%;">14,039</div>
<div class="t" style="right:448.71px;top:567px;font-size:10.0px;line-height:20px;letter-spacing:0.288px;color:#1a1a1a;transform:scaleX(1.0817);transform-origin:right 50%;">5,896</div>
<div class="t" style="right:402.71px;top:567px;font-size:10.0px;line-height:20px;letter-spacing:0.288px;color:#1a1a1a;transform:scaleX(1.0817);transform-origin:right 50%;">1,655</div>
<div class="t" style="left:347px;top:581px;font-size:10.0px;line-height:20px;letter-spacing:-0.020px;color:#1a1a1a;">KUVEYT TÜRK</div>
<div class="t" style="right:542.73px;top:581px;font-size:10.0px;line-height:20px;letter-spacing:0.274px;color:#262677;transform:scaleX(1.0790);transform-origin:right 50%;">-137.363</div>
<div class="t" style="right:495.71px;top:581px;font-size:10.0px;line-height:20px;letter-spacing:0.294px;color:#262677;transform:scaleX(1.0817);transform-origin:right 50%;">13,699</div>
<div class="t" style="right:448.71px;top:581px;font-size:10.0px;line-height:20px;letter-spacing:0.288px;color:#262677;transform:scaleX(1.0817);transform-origin:right 50%;">5,928</div>
<div class="t" style="right:402.71px;top:581px;font-size:10.0px;line-height:20px;letter-spacing:0.288px;color:#262677;transform:scaleX(1.0817);transform-origin:right 50%;">5,155</div>
<div class="t" style="left:347px;top:595px;font-size:10.0px;line-height:20px;letter-spacing:0.050px;color:#1a1a1a;transform:scaleX(1.0117);transform-origin:left 50%;">MİDAS</div>
<div class="t" style="right:542.69px;top:595px;font-size:10.0px;line-height:20px;letter-spacing:0.311px;color:#1a1a1a;transform:scaleX(1.0906);transform-origin:right 50%;">-115.986</div>
<div class="t" style="right:495.66px;top:595px;font-size:10.0px;line-height:20px;letter-spacing:0.343px;color:#1a1a1a;transform:scaleX(1.0968);transform-origin:right 50%;">11,567</div>
<div class="t" style="right:448.65px;top:595px;font-size:10.0px;line-height:20px;letter-spacing:0.348px;color:#1a1a1a;transform:scaleX(1.1002);transform-origin:right 50%;">5,811</div>
<div class="t" style="right:402.71px;top:595px;font-size:10.0px;line-height:20px;letter-spacing:0.288px;color:#1a1a1a;transform:scaleX(1.0817);transform-origin:right 50%;">1,340</div>
<div class="t" style="left:347px;top:609px;font-size:10.0px;line-height:20px;letter-spacing:0.255px;color:#1a1a1a;transform:scaleX(1.0761);transform-origin:left 50%;">Diğer</div>
<div class="t" style="right:542.73px;top:609px;font-size:10.0px;line-height:20px;letter-spacing:0.274px;color:#262677;transform:scaleX(1.0790);transform-origin:right 50%;">-237.790</div>
<div class="t" style="right:495.71px;top:609px;font-size:10.0px;line-height:20px;letter-spacing:0.294px;color:#262677;transform:scaleX(1.0817);transform-origin:right 50%;">23,714</div>
<div class="t" style="right:402.71px;top:609px;font-size:10.0px;line-height:20px;letter-spacing:0.294px;color:#262677;transform:scaleX(1.0817);transform-origin:right 50%;">28,912</div>
<div style="left:680px;top:528px;width:275px;height:99px;border:1px solid #a6a6a6;box-sizing:border-box;background:#ffffff"></div>
<div style="left:681px;top:529px;width:273px;height:12px;background:linear-gradient(#fafafa 0%,#f6f6f6 50%,#e8e8e8 54%,#eaeaea 84%,#f2f2f2 100%)"></div>
<div style="left:681px;top:541px;width:273px;height:1px;background:#c4c4c4"></div>
<div style="left:757px;top:542px;width:197px;height:13px;background:#ffffff"></div>
<div style="left:681px;top:542px;width:75px;height:13px;background:#c6d98f"></div>
<div style="left:681px;top:555px;width:273px;height:1px;background:#d2d2d2"></div>
<div style="left:757px;top:556px;width:197px;height:13px;background:#eeeeee"></div>
<div style="left:681px;top:556px;width:75px;height:13px;background:#9dbfe3"></div>
<div style="left:681px;top:569px;width:273px;height:1px;background:#d2d2d2"></div>
<div style="left:757px;top:570px;width:197px;height:13px;background:#ffffff"></div>
<div style="left:681px;top:570px;width:75px;height:13px;background:#e9a09c"></div>
<div style="left:681px;top:583px;width:273px;height:1px;background:#d2d2d2"></div>
<div style="left:757px;top:584px;width:197px;height:13px;background:#eeeeee"></div>
<div style="left:681px;top:584px;width:75px;height:13px;background:#f7da94"></div>
<div style="left:681px;top:597px;width:273px;height:1px;background:#d2d2d2"></div>
<div style="left:757px;top:598px;width:197px;height:13px;background:#ffffff"></div>
<div style="left:681px;top:598px;width:75px;height:13px;background:#aea1ca"></div>
<div style="left:681px;top:611px;width:273px;height:1px;background:#d2d2d2"></div>
<div style="left:757px;top:612px;width:197px;height:13px;background:#eeeeee"></div>
<div style="left:681px;top:612px;width:75px;height:13px;background:#c9d9dc"></div>
<div style="left:681px;top:625px;width:273px;height:1px;background:#d2d2d2"></div>
<div style="left:756px;top:529px;width:1px;height:96px;background:#d0d0d0"></div>
<div style="left:812px;top:529px;width:1px;height:96px;background:#d0d0d0"></div>
<div style="left:859px;top:529px;width:1px;height:96px;background:#d0d0d0"></div>
<div style="left:906px;top:529px;width:1px;height:96px;background:#d0d0d0"></div>
<div class="t" style="left:684px;top:526px;font-size:10.2px;line-height:20px;letter-spacing:-0.027px;color:#1a1a1a;-webkit-text-stroke:0.05px currentColor;transform:scaleX(0.9920);transform-origin:left 50%;">Aracı Kurum</div>
<div class="t" style="left:760px;top:526px;font-size:10.2px;line-height:20px;letter-spacing:-0.014px;color:#1a1a1a;-webkit-text-stroke:0.05px currentColor;">Toplam Lot</div>
<div class="t" style="left:816px;top:526px;font-size:10.2px;line-height:20px;letter-spacing:-0.150px;color:#1a1a1a;-webkit-text-stroke:0.05px currentColor;transform:scaleX(0.9747);transform-origin:left 50%;">%</div>
<div class="t" style="left:863px;top:526px;font-size:10.2px;line-height:20px;letter-spacing:0.052px;color:#1a1a1a;-webkit-text-stroke:0.05px currentColor;transform:scaleX(1.0167);transform-origin:left 50%;">Maliyet</div>
<div class="t" style="left:910px;top:526px;font-size:10.2px;line-height:20px;letter-spacing:-0.122px;color:#1a1a1a;-webkit-text-stroke:0.05px currentColor;transform:scaleX(0.9687);transform-origin:left 50%;">Takas%</div>
<div class="t" style="left:683px;top:539px;font-size:10.0px;line-height:20px;letter-spacing:0.062px;color:#1a1a1a;transform:scaleX(1.0150);transform-origin:left 50%;">BANK OF AME</div>
<div class="t" style="right:206.72px;top:539px;font-size:10.0px;line-height:20px;letter-spacing:0.285px;color:#1a1a1a;transform:scaleX(1.0817);transform-origin:right 50%;">2.006.495</div>
<div class="t" style="right:159.66px;top:539px;font-size:10.0px;line-height:20px;letter-spacing:0.343px;color:#1a1a1a;transform:scaleX(1.0968);transform-origin:right 50%;">21,711</div>
<div class="t" style="right:112.71px;top:539px;font-size:10.0px;line-height:20px;letter-spacing:0.288px;color:#1a1a1a;transform:scaleX(1.0817);transform-origin:right 50%;">5,882</div>
<div class="t" style="right:66.71px;top:539px;font-size:10.0px;line-height:20px;letter-spacing:0.288px;color:#1a1a1a;transform:scaleX(1.0817);transform-origin:right 50%;">3,413</div>
<div class="t" style="left:683px;top:553px;font-size:10.0px;line-height:20px;letter-spacing:-0.044px;color:#1a1a1a;transform:scaleX(0.9887);transform-origin:left 50%;">YAPIKREDİ</div>
<div class="t" style="right:206.72px;top:553px;font-size:10.0px;line-height:20px;letter-spacing:0.285px;color:#262677;transform:scaleX(1.0817);transform-origin:right 50%;">1.641.997</div>
<div class="t" style="right:159.71px;top:553px;font-size:10.0px;line-height:20px;letter-spacing:0.294px;color:#262677;transform:scaleX(1.0817);transform-origin:right 50%;">17,767</div>
<div class="t" style="right:112.71px;top:553px;font-size:10.0px;line-height:20px;letter-spacing:0.288px;color:#262677;transform:scaleX(1.0817);transform-origin:right 50%;">5,897</div>
<div class="t" style="right:66.71px;top:553px;font-size:10.0px;line-height:20px;letter-spacing:0.288px;color:#262677;transform:scaleX(1.0817);transform-origin:right 50%;">5,351</div>
<div class="t" style="left:683px;top:567px;font-size:10.0px;line-height:20px;letter-spacing:-0.021px;color:#1a1a1a;">TEB</div>
<div class="t" style="right:206.70px;top:567px;font-size:10.0px;line-height:20px;letter-spacing:0.297px;color:#1a1a1a;transform:scaleX(1.0817);transform-origin:right 50%;">658.027</div>
<div class="t" style="right:159.71px;top:567px;font-size:10.0px;line-height:20px;letter-spacing:0.288px;color:#1a1a1a;transform:scaleX(1.0817);transform-origin:right 50%;">7,120</div>
<div class="t" style="right:112.71px;top:567px;font-size:10.0px;line-height:20px;letter-spacing:0.288px;color:#1a1a1a;transform:scaleX(1.0817);transform-origin:right 50%;">5,846</div>
<div class="t" style="right:66.71px;top:567px;font-size:10.0px;line-height:20px;letter-spacing:0.288px;color:#1a1a1a;transform:scaleX(1.0817);transform-origin:right 50%;">3,048</div>
<div class="t" style="left:683px;top:581px;font-size:10.0px;line-height:20px;letter-spacing:0.012px;color:#1a1a1a;">AK</div>
<div class="t" style="right:206.70px;top:581px;font-size:10.0px;line-height:20px;letter-spacing:0.297px;color:#262677;transform:scaleX(1.0817);transform-origin:right 50%;">628.049</div>
<div class="t" style="right:159.71px;top:581px;font-size:10.0px;line-height:20px;letter-spacing:0.288px;color:#262677;transform:scaleX(1.0817);transform-origin:right 50%;">6,796</div>
<div class="t" style="right:112.71px;top:581px;font-size:10.0px;line-height:20px;letter-spacing:0.288px;color:#262677;transform:scaleX(1.0817);transform-origin:right 50%;">5,877</div>
<div class="t" style="right:66.71px;top:581px;font-size:10.0px;line-height:20px;letter-spacing:0.288px;color:#262677;transform:scaleX(1.0817);transform-origin:right 50%;">5,027</div>
<div class="t" style="left:683px;top:595px;font-size:10.0px;line-height:20px;letter-spacing:-0.030px;color:#1a1a1a;transform:scaleX(0.9903);transform-origin:left 50%;">İŞ</div>
<div class="t" style="right:206.70px;top:595px;font-size:10.0px;line-height:20px;letter-spacing:0.297px;color:#1a1a1a;transform:scaleX(1.0817);transform-origin:right 50%;">623.741</div>
<div class="t" style="right:159.71px;top:595px;font-size:10.0px;line-height:20px;letter-spacing:0.288px;color:#1a1a1a;transform:scaleX(1.0817);transform-origin:right 50%;">6,749</div>
<div class="t" style="right:112.71px;top:595px;font-size:10.0px;line-height:20px;letter-spacing:0.288px;color:#1a1a1a;transform:scaleX(1.0817);transform-origin:right 50%;">6,162</div>
<div class="t" style="right:66.71px;top:595px;font-size:10.0px;line-height:20px;letter-spacing:0.288px;color:#1a1a1a;transform:scaleX(1.0817);transform-origin:right 50%;">9,633</div>
<div class="t" style="left:683px;top:609px;font-size:10.0px;line-height:20px;letter-spacing:0.255px;color:#1a1a1a;transform:scaleX(1.0761);transform-origin:left 50%;">Diğer</div>
<div class="t" style="right:206.72px;top:609px;font-size:10.0px;line-height:20px;letter-spacing:0.285px;color:#262677;transform:scaleX(1.0817);transform-origin:right 50%;">3.683.385</div>
<div class="t" style="right:159.71px;top:609px;font-size:10.0px;line-height:20px;letter-spacing:0.294px;color:#262677;transform:scaleX(1.0817);transform-origin:right 50%;">39,856</div>
<div class="t" style="right:66.71px;top:609px;font-size:10.0px;line-height:20px;letter-spacing:0.294px;color:#262677;transform:scaleX(1.0817);transform-origin:right 50%;">68,707</div></body></html>
